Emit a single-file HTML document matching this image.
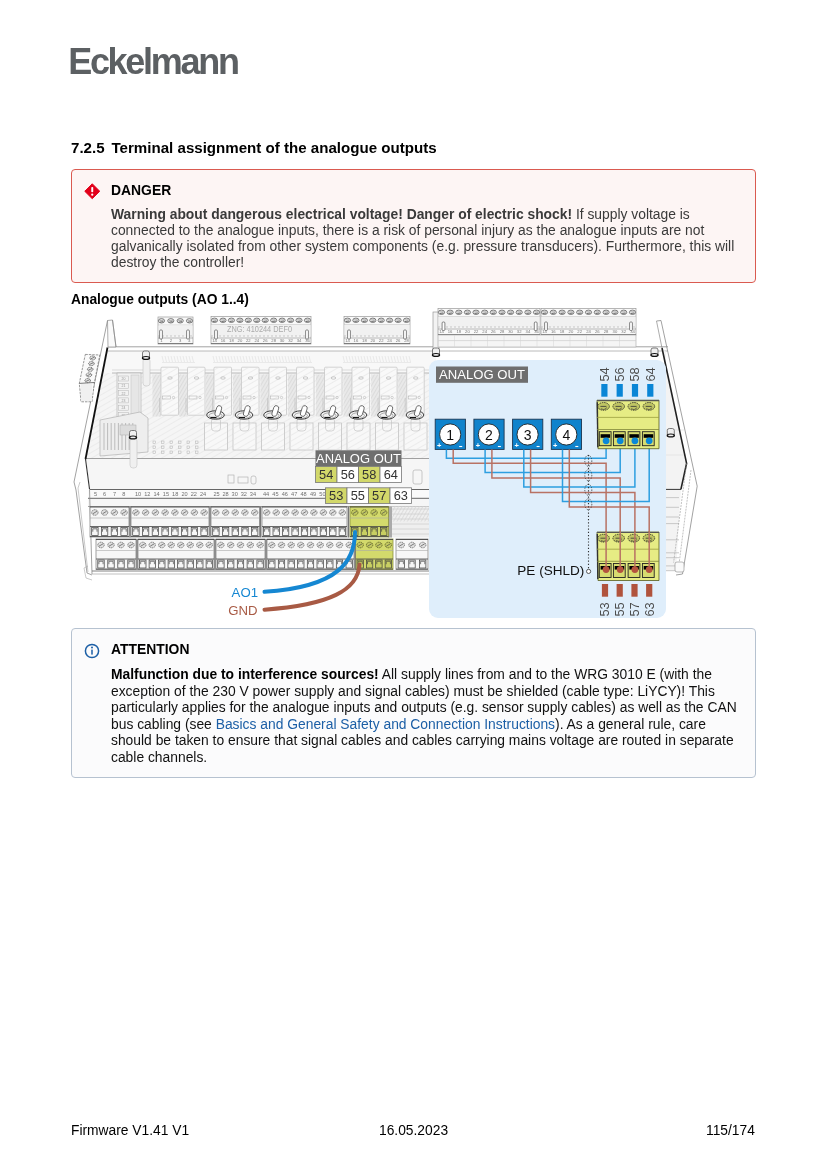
<!DOCTYPE html>
<html><head><meta charset="utf-8">
<style>
*{margin:0;padding:0;box-sizing:border-box}
html,body{width:827px;height:1169px;background:#fff;overflow:hidden}
body{font-family:"Liberation Sans",sans-serif;color:#000;position:relative}
.abs{position:absolute;white-space:nowrap}
#logo{left:68.2px;top:41.5px;font-size:36px;font-weight:bold;color:#5c6063;letter-spacing:-2.3px;line-height:40px}
#h{left:71px;top:138.5px;font-size:15.1px;font-weight:bold;line-height:18px}
#h .n{position:absolute;left:0}
#h .t{position:absolute;left:40.5px}
.box{position:absolute;left:71px;width:685px;border-radius:4px}
#danger{top:169px;height:114px;border:1.9px solid #da5a50;background:#fdf5f4}
#attn{top:628px;height:150px;border:1.9px solid #b6c2d0;background:#fbfbfc}
.ttl{position:absolute;left:39px;font-size:13.9px;font-weight:bold;line-height:16px;white-space:nowrap}
.txt{position:absolute;left:39px;font-size:13.85px;line-height:16px;color:#3a3a3a;white-space:nowrap}
#attn .txt{color:#111;line-height:16.5px}
#lbl{left:71px;top:292.3px;font-size:13.8px;font-weight:bold;line-height:16px}
.ft{position:absolute;top:1123px;font-size:13.8px;line-height:16px;white-space:nowrap}
a{color:#1c5fa6;text-decoration:none}
#dg{position:absolute;left:0;top:0}
#dg text{font-family:"Liberation Sans",sans-serif}
</style></head>
<body>
<div id="wrap" style="position:absolute;left:0;top:0;width:827px;height:1169px;will-change:transform">
<div id="logo" class="abs">Eckelmann</div>
<div id="h" class="abs"><span class="n">7.2.5</span><span class="t">Terminal assignment of the analogue outputs</span></div>

<div id="danger" class="box">
  <svg style="position:absolute;left:11.5px;top:13px" width="16.5" height="16.5" viewBox="0 0 17 17"><path d="M8.5 0.8 L16.2 8.5 L8.5 16.2 L0.8 8.5 Z" fill="#e2001a" stroke="#e2001a" stroke-width="1" stroke-linejoin="round"/><rect x="7.5" y="4" width="2" height="5.6" rx="0.8" fill="#fff"/><circle cx="8.5" cy="12" r="1.15" fill="#fff"/></svg>
  <div class="ttl" style="top:11.8px">DANGER</div>
  <div class="txt" style="top:36.2px"><b>Warning about dangerous electrical voltage! Danger of electric shock!</b> If supply voltage is<br>connected to the analogue inputs, there is a risk of personal injury as the analogue inputs are not<br>galvanically isolated from other system components (e.g. pressure transducers). Furthermore, this will<br>destroy the controller!</div>
</div>

<div id="lbl" class="abs">Analogue outputs (AO 1..4)</div>

<svg id="dg" width="827" height="640" viewBox="0 0 827 640">
<defs>
<pattern id="hatch" width="5" height="5" patternUnits="userSpaceOnUse" patternTransform="rotate(-30)"><line x1="0" y1="2.5" x2="5" y2="2.5" stroke="#e6e6e6" stroke-width="0.7"/></pattern>
<pattern id="hatch3" width="3" height="3" patternUnits="userSpaceOnUse" patternTransform="rotate(-60)"><line x1="0" y1="1.5" x2="3" y2="1.5" stroke="#d8d8d8" stroke-width="0.8"/></pattern>
<pattern id="hatch2" width="5" height="5" patternUnits="userSpaceOnUse" patternTransform="rotate(-20)"><line x1="0" y1="2.5" x2="5" y2="2.5" stroke="#e0e0e0" stroke-width="0.7"/></pattern>
</defs>
<polygon points="108.0,351.0 436.0,351.0 436.0,458.0 86.0,458.0" fill="#f5f5f5" stroke="none" stroke-width="0.7" />
<polygon points="108.0,351.0 436.0,351.0 436.0,458.0 86.0,458.0" fill="url(#hatch)" stroke="none" stroke-width="0.7" />
<polygon points="107.5,351.0 436.0,351.0 436.0,373.0 103.0,373.0" fill="#f8f8f8" stroke="none" stroke-width="0.7" />
<line x1="162.0" y1="356.0" x2="163.5" y2="362.0" stroke="#dedede" stroke-width="0.6" />
<line x1="165.0" y1="356.0" x2="166.5" y2="362.0" stroke="#dedede" stroke-width="0.6" />
<line x1="168.0" y1="356.0" x2="169.5" y2="362.0" stroke="#dedede" stroke-width="0.6" />
<line x1="171.0" y1="356.0" x2="172.5" y2="362.0" stroke="#dedede" stroke-width="0.6" />
<line x1="174.0" y1="356.0" x2="175.5" y2="362.0" stroke="#dedede" stroke-width="0.6" />
<line x1="177.0" y1="356.0" x2="178.5" y2="362.0" stroke="#dedede" stroke-width="0.6" />
<line x1="180.0" y1="356.0" x2="181.5" y2="362.0" stroke="#dedede" stroke-width="0.6" />
<line x1="183.0" y1="356.0" x2="184.5" y2="362.0" stroke="#dedede" stroke-width="0.6" />
<line x1="186.0" y1="356.0" x2="187.5" y2="362.0" stroke="#dedede" stroke-width="0.6" />
<line x1="189.0" y1="356.0" x2="190.5" y2="362.0" stroke="#dedede" stroke-width="0.6" />
<line x1="192.0" y1="356.0" x2="193.5" y2="362.0" stroke="#dedede" stroke-width="0.6" />
<line x1="162.0" y1="362.5" x2="195.0" y2="362.5" stroke="#dadada" stroke-width="0.5" />
<line x1="213.0" y1="356.0" x2="214.5" y2="362.0" stroke="#dedede" stroke-width="0.6" />
<line x1="216.0" y1="356.0" x2="217.5" y2="362.0" stroke="#dedede" stroke-width="0.6" />
<line x1="219.0" y1="356.0" x2="220.5" y2="362.0" stroke="#dedede" stroke-width="0.6" />
<line x1="222.0" y1="356.0" x2="223.5" y2="362.0" stroke="#dedede" stroke-width="0.6" />
<line x1="225.0" y1="356.0" x2="226.5" y2="362.0" stroke="#dedede" stroke-width="0.6" />
<line x1="228.0" y1="356.0" x2="229.5" y2="362.0" stroke="#dedede" stroke-width="0.6" />
<line x1="231.0" y1="356.0" x2="232.5" y2="362.0" stroke="#dedede" stroke-width="0.6" />
<line x1="234.0" y1="356.0" x2="235.5" y2="362.0" stroke="#dedede" stroke-width="0.6" />
<line x1="237.0" y1="356.0" x2="238.5" y2="362.0" stroke="#dedede" stroke-width="0.6" />
<line x1="240.0" y1="356.0" x2="241.5" y2="362.0" stroke="#dedede" stroke-width="0.6" />
<line x1="243.0" y1="356.0" x2="244.5" y2="362.0" stroke="#dedede" stroke-width="0.6" />
<line x1="246.0" y1="356.0" x2="247.5" y2="362.0" stroke="#dedede" stroke-width="0.6" />
<line x1="249.0" y1="356.0" x2="250.5" y2="362.0" stroke="#dedede" stroke-width="0.6" />
<line x1="252.0" y1="356.0" x2="253.5" y2="362.0" stroke="#dedede" stroke-width="0.6" />
<line x1="255.0" y1="356.0" x2="256.5" y2="362.0" stroke="#dedede" stroke-width="0.6" />
<line x1="258.0" y1="356.0" x2="259.5" y2="362.0" stroke="#dedede" stroke-width="0.6" />
<line x1="261.0" y1="356.0" x2="262.5" y2="362.0" stroke="#dedede" stroke-width="0.6" />
<line x1="264.0" y1="356.0" x2="265.5" y2="362.0" stroke="#dedede" stroke-width="0.6" />
<line x1="267.0" y1="356.0" x2="268.5" y2="362.0" stroke="#dedede" stroke-width="0.6" />
<line x1="270.0" y1="356.0" x2="271.5" y2="362.0" stroke="#dedede" stroke-width="0.6" />
<line x1="273.0" y1="356.0" x2="274.5" y2="362.0" stroke="#dedede" stroke-width="0.6" />
<line x1="276.0" y1="356.0" x2="277.5" y2="362.0" stroke="#dedede" stroke-width="0.6" />
<line x1="279.0" y1="356.0" x2="280.5" y2="362.0" stroke="#dedede" stroke-width="0.6" />
<line x1="282.0" y1="356.0" x2="283.5" y2="362.0" stroke="#dedede" stroke-width="0.6" />
<line x1="285.0" y1="356.0" x2="286.5" y2="362.0" stroke="#dedede" stroke-width="0.6" />
<line x1="288.0" y1="356.0" x2="289.5" y2="362.0" stroke="#dedede" stroke-width="0.6" />
<line x1="291.0" y1="356.0" x2="292.5" y2="362.0" stroke="#dedede" stroke-width="0.6" />
<line x1="294.0" y1="356.0" x2="295.5" y2="362.0" stroke="#dedede" stroke-width="0.6" />
<line x1="297.0" y1="356.0" x2="298.5" y2="362.0" stroke="#dedede" stroke-width="0.6" />
<line x1="300.0" y1="356.0" x2="301.5" y2="362.0" stroke="#dedede" stroke-width="0.6" />
<line x1="303.0" y1="356.0" x2="304.5" y2="362.0" stroke="#dedede" stroke-width="0.6" />
<line x1="306.0" y1="356.0" x2="307.5" y2="362.0" stroke="#dedede" stroke-width="0.6" />
<line x1="309.0" y1="356.0" x2="310.5" y2="362.0" stroke="#dedede" stroke-width="0.6" />
<line x1="213.0" y1="362.5" x2="312.0" y2="362.5" stroke="#dadada" stroke-width="0.5" />
<line x1="343.0" y1="356.0" x2="344.5" y2="362.0" stroke="#dedede" stroke-width="0.6" />
<line x1="346.0" y1="356.0" x2="347.5" y2="362.0" stroke="#dedede" stroke-width="0.6" />
<line x1="349.0" y1="356.0" x2="350.5" y2="362.0" stroke="#dedede" stroke-width="0.6" />
<line x1="352.0" y1="356.0" x2="353.5" y2="362.0" stroke="#dedede" stroke-width="0.6" />
<line x1="355.0" y1="356.0" x2="356.5" y2="362.0" stroke="#dedede" stroke-width="0.6" />
<line x1="358.0" y1="356.0" x2="359.5" y2="362.0" stroke="#dedede" stroke-width="0.6" />
<line x1="361.0" y1="356.0" x2="362.5" y2="362.0" stroke="#dedede" stroke-width="0.6" />
<line x1="364.0" y1="356.0" x2="365.5" y2="362.0" stroke="#dedede" stroke-width="0.6" />
<line x1="367.0" y1="356.0" x2="368.5" y2="362.0" stroke="#dedede" stroke-width="0.6" />
<line x1="370.0" y1="356.0" x2="371.5" y2="362.0" stroke="#dedede" stroke-width="0.6" />
<line x1="373.0" y1="356.0" x2="374.5" y2="362.0" stroke="#dedede" stroke-width="0.6" />
<line x1="376.0" y1="356.0" x2="377.5" y2="362.0" stroke="#dedede" stroke-width="0.6" />
<line x1="379.0" y1="356.0" x2="380.5" y2="362.0" stroke="#dedede" stroke-width="0.6" />
<line x1="382.0" y1="356.0" x2="383.5" y2="362.0" stroke="#dedede" stroke-width="0.6" />
<line x1="385.0" y1="356.0" x2="386.5" y2="362.0" stroke="#dedede" stroke-width="0.6" />
<line x1="388.0" y1="356.0" x2="389.5" y2="362.0" stroke="#dedede" stroke-width="0.6" />
<line x1="391.0" y1="356.0" x2="392.5" y2="362.0" stroke="#dedede" stroke-width="0.6" />
<line x1="394.0" y1="356.0" x2="395.5" y2="362.0" stroke="#dedede" stroke-width="0.6" />
<line x1="397.0" y1="356.0" x2="398.5" y2="362.0" stroke="#dedede" stroke-width="0.6" />
<line x1="400.0" y1="356.0" x2="401.5" y2="362.0" stroke="#dedede" stroke-width="0.6" />
<line x1="403.0" y1="356.0" x2="404.5" y2="362.0" stroke="#dedede" stroke-width="0.6" />
<line x1="406.0" y1="356.0" x2="407.5" y2="362.0" stroke="#dedede" stroke-width="0.6" />
<line x1="409.0" y1="356.0" x2="410.5" y2="362.0" stroke="#dedede" stroke-width="0.6" />
<line x1="343.0" y1="362.5" x2="411.0" y2="362.5" stroke="#dadada" stroke-width="0.5" />
<line x1="112.0" y1="373.0" x2="436.0" y2="373.0" stroke="#a8a8a8" stroke-width="0.8" />
<line x1="112.0" y1="370.0" x2="436.0" y2="370.0" stroke="#c8c8c8" stroke-width="0.6" />
<polygon points="86.0,458.0 436.0,458.0 436.0,489.0 90.0,489.0" fill="#f6f6f6" stroke="none" stroke-width="0.7" />
<line x1="86.0" y1="458.5" x2="436.0" y2="458.5" stroke="#8a8a8a" stroke-width="0.8" />
<line x1="90.0" y1="489.5" x2="436.0" y2="489.5" stroke="#555" stroke-width="0.9" />
<rect x="88.0" y="490.0" width="348.0" height="8.0" fill="#fafafa" stroke="none" stroke-width="0.7" rx="0" />
<line x1="88.0" y1="498.3" x2="436.0" y2="498.3" stroke="#555" stroke-width="0.9" />
<text x="95.6" y="496.3" font-size="5.6" fill="#707070" text-anchor="middle">5</text>
<text x="104.6" y="496.3" font-size="5.6" fill="#707070" text-anchor="middle">6</text>
<text x="114.6" y="496.3" font-size="5.6" fill="#707070" text-anchor="middle">7</text>
<text x="123.7" y="496.3" font-size="5.6" fill="#707070" text-anchor="middle">8</text>
<text x="138.0" y="496.3" font-size="5.6" fill="#707070" text-anchor="middle">10</text>
<text x="147.3" y="496.3" font-size="5.6" fill="#707070" text-anchor="middle">12</text>
<text x="156.6" y="496.3" font-size="5.6" fill="#707070" text-anchor="middle">14</text>
<text x="165.9" y="496.3" font-size="5.6" fill="#707070" text-anchor="middle">15</text>
<text x="175.2" y="496.3" font-size="5.6" fill="#707070" text-anchor="middle">18</text>
<text x="184.5" y="496.3" font-size="5.6" fill="#707070" text-anchor="middle">20</text>
<text x="193.8" y="496.3" font-size="5.6" fill="#707070" text-anchor="middle">22</text>
<text x="203.1" y="496.3" font-size="5.6" fill="#707070" text-anchor="middle">24</text>
<text x="216.5" y="496.3" font-size="5.6" fill="#707070" text-anchor="middle">25</text>
<text x="225.6" y="496.3" font-size="5.6" fill="#707070" text-anchor="middle">28</text>
<text x="234.7" y="496.3" font-size="5.6" fill="#707070" text-anchor="middle">30</text>
<text x="243.8" y="496.3" font-size="5.6" fill="#707070" text-anchor="middle">32</text>
<text x="252.9" y="496.3" font-size="5.6" fill="#707070" text-anchor="middle">34</text>
<text x="266.0" y="496.3" font-size="5.6" fill="#707070" text-anchor="middle">44</text>
<text x="275.4" y="496.3" font-size="5.6" fill="#707070" text-anchor="middle">45</text>
<text x="284.8" y="496.3" font-size="5.6" fill="#707070" text-anchor="middle">46</text>
<text x="294.2" y="496.3" font-size="5.6" fill="#707070" text-anchor="middle">47</text>
<text x="303.6" y="496.3" font-size="5.6" fill="#707070" text-anchor="middle">48</text>
<text x="313.0" y="496.3" font-size="5.6" fill="#707070" text-anchor="middle">49</text>
<text x="322.4" y="496.3" font-size="5.6" fill="#707070" text-anchor="middle">50</text>
<text x="331.8" y="496.3" font-size="5.6" fill="#707070" text-anchor="middle">52</text>
<rect x="88.0" y="499.0" width="348.0" height="7.5" fill="#f6f6f6" stroke="none" stroke-width="0.7" rx="0" />
<line x1="88.0" y1="506.5" x2="436.0" y2="506.5" stroke="#8a8a8a" stroke-width="0.8" />
<line x1="108.0" y1="346.8" x2="668.0" y2="346.8" stroke="#8a8a8a" stroke-width="0.8" />
<line x1="108.0" y1="351.0" x2="668.0" y2="351.0" stroke="#a8a8a8" stroke-width="0.8" />
<polygon points="107.5,320.5 112.5,320.0 116.0,347.0 108.0,347.0" fill="#fafafa" stroke="#8a8a8a" stroke-width="0.7" />
<polyline points="107.5,320.5 74.0,482.0 76.0,490.0 87.0,573.0 92.0,575.0" fill="none" stroke="#8a8a8a" stroke-width="0.8" />
<polyline points="112.5,320.0 116.0,347.0" fill="none" stroke="#8a8a8a" stroke-width="0.7" />
<line x1="107.5" y1="347.5" x2="85.5" y2="459.0" stroke="#111" stroke-width="1.8" />
<line x1="85.5" y1="459.0" x2="89.5" y2="489.0" stroke="#333" stroke-width="1.1" />
<line x1="89.5" y1="489.0" x2="92.0" y2="574.0" stroke="#8a8a8a" stroke-width="0.8" />
<polyline points="80.0,482.0 78.0,488.0 88.0,572.0" fill="none" stroke="#a8a8a8" stroke-width="0.6" />
<polygon points="85.3,354.4 99.8,355.0 94.4,382.5 92.0,401.8 81.0,401.8 79.3,383.4" fill="#fafafa" stroke="#555" stroke-width="0.6" stroke-dasharray="2.5 1"/>
<line x1="79.3" y1="383.4" x2="94.4" y2="382.5" stroke="#444" stroke-width="0.7" />
<rect x="81.0" y="384.0" width="11.0" height="17.0" fill="#f0f0f0" stroke="none" stroke-width="0.7" rx="0" />
<ellipse cx="92.6" cy="358.0" rx="2.8" ry="2.0" fill="#e8e8e8" stroke="#333" stroke-width="0.7" stroke-dasharray="1.2 0.5"/>
<line x1="90.8" y1="358.8" x2="94.4" y2="357.2" stroke="#333" stroke-width="0.6" />
<ellipse cx="91.4" cy="363.6" rx="2.8" ry="2.0" fill="#e8e8e8" stroke="#333" stroke-width="0.7" stroke-dasharray="1.2 0.5"/>
<line x1="89.6" y1="364.4" x2="93.2" y2="362.8" stroke="#333" stroke-width="0.6" />
<ellipse cx="90.2" cy="369.3" rx="2.8" ry="2.0" fill="#e8e8e8" stroke="#333" stroke-width="0.7" stroke-dasharray="1.2 0.5"/>
<line x1="88.4" y1="370.1" x2="92.0" y2="368.5" stroke="#333" stroke-width="0.6" />
<ellipse cx="88.9" cy="374.9" rx="2.8" ry="2.0" fill="#e8e8e8" stroke="#333" stroke-width="0.7" stroke-dasharray="1.2 0.5"/>
<line x1="87.1" y1="375.8" x2="90.7" y2="374.1" stroke="#333" stroke-width="0.6" />
<ellipse cx="87.7" cy="380.6" rx="2.8" ry="2.0" fill="#e8e8e8" stroke="#333" stroke-width="0.7" stroke-dasharray="1.2 0.5"/>
<line x1="85.9" y1="381.4" x2="89.5" y2="379.8" stroke="#333" stroke-width="0.6" />
<rect x="158.0" y="317.0" width="35.0" height="27.0" fill="#f9f9f9" stroke="#999" stroke-width="0.7" rx="0" />
<line x1="158.0" y1="325.0" x2="193.0" y2="325.0" stroke="#c4c4c4" stroke-width="0.6" />
<rect x="158.5" y="325.5" width="34.0" height="11.0" fill="#f1f1f1" stroke="none" stroke-width="0.7" rx="0" />
<line x1="158.0" y1="336.0" x2="193.0" y2="336.0" stroke="#999" stroke-width="0.5" stroke-dasharray="2 2"/>
<line x1="158.0" y1="338.0" x2="193.0" y2="338.0" stroke="#888" stroke-width="0.6" />
<line x1="158.0" y1="343.5" x2="193.0" y2="343.5" stroke="#666" stroke-width="0.8" />
<ellipse cx="161.5" cy="320.8" rx="3.1" ry="2.2" fill="#f0f0f0" stroke="#4a4a4a" stroke-width="0.7" />
<line x1="159.5" y1="320.4" x2="163.5" y2="320.4" stroke="#666" stroke-width="0.5" />
<line x1="160.0" y1="322.1" x2="163.3" y2="321.5" stroke="#444" stroke-width="0.7" />
<text x="161.5" y="342.2" font-size="4.2" fill="#777" text-anchor="middle">1</text>
<ellipse cx="170.8" cy="320.8" rx="3.1" ry="2.2" fill="#f0f0f0" stroke="#4a4a4a" stroke-width="0.7" />
<line x1="168.8" y1="320.4" x2="172.8" y2="320.4" stroke="#666" stroke-width="0.5" />
<line x1="169.3" y1="322.1" x2="172.6" y2="321.5" stroke="#444" stroke-width="0.7" />
<text x="170.8" y="342.2" font-size="4.2" fill="#777" text-anchor="middle">2</text>
<ellipse cx="180.2" cy="320.8" rx="3.1" ry="2.2" fill="#f0f0f0" stroke="#4a4a4a" stroke-width="0.7" />
<line x1="178.2" y1="320.4" x2="182.2" y2="320.4" stroke="#666" stroke-width="0.5" />
<line x1="178.7" y1="322.1" x2="182.0" y2="321.5" stroke="#444" stroke-width="0.7" />
<text x="180.2" y="342.2" font-size="4.2" fill="#777" text-anchor="middle">3</text>
<ellipse cx="189.5" cy="320.8" rx="3.1" ry="2.2" fill="#f0f0f0" stroke="#4a4a4a" stroke-width="0.7" />
<line x1="187.5" y1="320.4" x2="191.5" y2="320.4" stroke="#666" stroke-width="0.5" />
<line x1="188.0" y1="322.1" x2="191.3" y2="321.5" stroke="#444" stroke-width="0.7" />
<text x="189.5" y="342.2" font-size="4.2" fill="#777" text-anchor="middle">4</text>
<rect x="159.6" y="330.0" width="2.8" height="9.0" fill="#fff" stroke="#555" stroke-width="0.7" rx="1" />
<rect x="186.6" y="330.0" width="2.8" height="9.0" fill="#fff" stroke="#555" stroke-width="0.7" rx="1" />
<rect x="211.0" y="316.5" width="100.0" height="27.5" fill="#f9f9f9" stroke="#999" stroke-width="0.7" rx="0" />
<line x1="211.0" y1="324.5" x2="311.0" y2="324.5" stroke="#c4c4c4" stroke-width="0.6" />
<rect x="211.5" y="325.0" width="99.0" height="11.5" fill="#f1f1f1" stroke="none" stroke-width="0.7" rx="0" />
<line x1="211.0" y1="336.0" x2="311.0" y2="336.0" stroke="#999" stroke-width="0.5" stroke-dasharray="2 2"/>
<line x1="211.0" y1="338.0" x2="311.0" y2="338.0" stroke="#888" stroke-width="0.6" />
<line x1="211.0" y1="343.5" x2="311.0" y2="343.5" stroke="#666" stroke-width="0.8" />
<ellipse cx="214.5" cy="320.3" rx="3.1" ry="2.2" fill="#f0f0f0" stroke="#4a4a4a" stroke-width="0.7" />
<line x1="212.5" y1="319.9" x2="216.5" y2="319.9" stroke="#666" stroke-width="0.5" />
<line x1="213.0" y1="321.6" x2="216.3" y2="321.0" stroke="#444" stroke-width="0.7" />
<text x="214.5" y="342.2" font-size="4.2" fill="#777" text-anchor="middle">14</text>
<ellipse cx="223.0" cy="320.3" rx="3.1" ry="2.2" fill="#f0f0f0" stroke="#4a4a4a" stroke-width="0.7" />
<line x1="221.0" y1="319.9" x2="225.0" y2="319.9" stroke="#666" stroke-width="0.5" />
<line x1="221.5" y1="321.6" x2="224.8" y2="321.0" stroke="#444" stroke-width="0.7" />
<text x="223.0" y="342.2" font-size="4.2" fill="#777" text-anchor="middle">16</text>
<ellipse cx="231.4" cy="320.3" rx="3.1" ry="2.2" fill="#f0f0f0" stroke="#4a4a4a" stroke-width="0.7" />
<line x1="229.4" y1="319.9" x2="233.4" y2="319.9" stroke="#666" stroke-width="0.5" />
<line x1="229.9" y1="321.6" x2="233.2" y2="321.0" stroke="#444" stroke-width="0.7" />
<text x="231.4" y="342.2" font-size="4.2" fill="#777" text-anchor="middle">18</text>
<ellipse cx="239.9" cy="320.3" rx="3.1" ry="2.2" fill="#f0f0f0" stroke="#4a4a4a" stroke-width="0.7" />
<line x1="237.9" y1="319.9" x2="241.9" y2="319.9" stroke="#666" stroke-width="0.5" />
<line x1="238.4" y1="321.6" x2="241.7" y2="321.0" stroke="#444" stroke-width="0.7" />
<text x="239.9" y="342.2" font-size="4.2" fill="#777" text-anchor="middle">20</text>
<ellipse cx="248.3" cy="320.3" rx="3.1" ry="2.2" fill="#f0f0f0" stroke="#4a4a4a" stroke-width="0.7" />
<line x1="246.3" y1="319.9" x2="250.3" y2="319.9" stroke="#666" stroke-width="0.5" />
<line x1="246.8" y1="321.6" x2="250.1" y2="321.0" stroke="#444" stroke-width="0.7" />
<text x="248.3" y="342.2" font-size="4.2" fill="#777" text-anchor="middle">22</text>
<ellipse cx="256.8" cy="320.3" rx="3.1" ry="2.2" fill="#f0f0f0" stroke="#4a4a4a" stroke-width="0.7" />
<line x1="254.8" y1="319.9" x2="258.8" y2="319.9" stroke="#666" stroke-width="0.5" />
<line x1="255.3" y1="321.6" x2="258.6" y2="321.0" stroke="#444" stroke-width="0.7" />
<text x="256.8" y="342.2" font-size="4.2" fill="#777" text-anchor="middle">24</text>
<ellipse cx="265.2" cy="320.3" rx="3.1" ry="2.2" fill="#f0f0f0" stroke="#4a4a4a" stroke-width="0.7" />
<line x1="263.2" y1="319.9" x2="267.2" y2="319.9" stroke="#666" stroke-width="0.5" />
<line x1="263.7" y1="321.6" x2="267.0" y2="321.0" stroke="#444" stroke-width="0.7" />
<text x="265.2" y="342.2" font-size="4.2" fill="#777" text-anchor="middle">26</text>
<ellipse cx="273.7" cy="320.3" rx="3.1" ry="2.2" fill="#f0f0f0" stroke="#4a4a4a" stroke-width="0.7" />
<line x1="271.7" y1="319.9" x2="275.7" y2="319.9" stroke="#666" stroke-width="0.5" />
<line x1="272.2" y1="321.6" x2="275.5" y2="321.0" stroke="#444" stroke-width="0.7" />
<text x="273.7" y="342.2" font-size="4.2" fill="#777" text-anchor="middle">28</text>
<ellipse cx="282.1" cy="320.3" rx="3.1" ry="2.2" fill="#f0f0f0" stroke="#4a4a4a" stroke-width="0.7" />
<line x1="280.1" y1="319.9" x2="284.1" y2="319.9" stroke="#666" stroke-width="0.5" />
<line x1="280.6" y1="321.6" x2="283.9" y2="321.0" stroke="#444" stroke-width="0.7" />
<text x="282.1" y="342.2" font-size="4.2" fill="#777" text-anchor="middle">30</text>
<ellipse cx="290.6" cy="320.3" rx="3.1" ry="2.2" fill="#f0f0f0" stroke="#4a4a4a" stroke-width="0.7" />
<line x1="288.6" y1="319.9" x2="292.6" y2="319.9" stroke="#666" stroke-width="0.5" />
<line x1="289.1" y1="321.6" x2="292.4" y2="321.0" stroke="#444" stroke-width="0.7" />
<text x="290.6" y="342.2" font-size="4.2" fill="#777" text-anchor="middle">32</text>
<ellipse cx="299.0" cy="320.3" rx="3.1" ry="2.2" fill="#f0f0f0" stroke="#4a4a4a" stroke-width="0.7" />
<line x1="297.0" y1="319.9" x2="301.0" y2="319.9" stroke="#666" stroke-width="0.5" />
<line x1="297.5" y1="321.6" x2="300.8" y2="321.0" stroke="#444" stroke-width="0.7" />
<text x="299.0" y="342.2" font-size="4.2" fill="#777" text-anchor="middle">34</text>
<ellipse cx="307.5" cy="320.3" rx="3.1" ry="2.2" fill="#f0f0f0" stroke="#4a4a4a" stroke-width="0.7" />
<line x1="305.5" y1="319.9" x2="309.5" y2="319.9" stroke="#666" stroke-width="0.5" />
<line x1="306.0" y1="321.6" x2="309.3" y2="321.0" stroke="#444" stroke-width="0.7" />
<text x="307.5" y="342.2" font-size="4.2" fill="#777" text-anchor="middle">36</text>
<text x="227.0" y="332.0" font-size="8.5" fill="#aaa" textLength="65" lengthAdjust="spacingAndGlyphs">ZNG: 410244 DEF0</text>
<rect x="214.6" y="330.0" width="2.8" height="9.0" fill="#fff" stroke="#555" stroke-width="0.7" rx="1" />
<rect x="305.6" y="330.0" width="2.8" height="9.0" fill="#fff" stroke="#555" stroke-width="0.7" rx="1" />
<rect x="344.0" y="316.5" width="66.0" height="27.5" fill="#f9f9f9" stroke="#999" stroke-width="0.7" rx="0" />
<line x1="344.0" y1="324.5" x2="410.0" y2="324.5" stroke="#c4c4c4" stroke-width="0.6" />
<rect x="344.5" y="325.0" width="65.0" height="11.5" fill="#f1f1f1" stroke="none" stroke-width="0.7" rx="0" />
<line x1="344.0" y1="336.0" x2="410.0" y2="336.0" stroke="#999" stroke-width="0.5" stroke-dasharray="2 2"/>
<line x1="344.0" y1="338.0" x2="410.0" y2="338.0" stroke="#888" stroke-width="0.6" />
<line x1="344.0" y1="343.5" x2="410.0" y2="343.5" stroke="#666" stroke-width="0.8" />
<ellipse cx="347.5" cy="320.3" rx="3.1" ry="2.2" fill="#f0f0f0" stroke="#4a4a4a" stroke-width="0.7" />
<line x1="345.5" y1="319.9" x2="349.5" y2="319.9" stroke="#666" stroke-width="0.5" />
<line x1="346.0" y1="321.6" x2="349.3" y2="321.0" stroke="#444" stroke-width="0.7" />
<text x="347.5" y="342.2" font-size="4.2" fill="#777" text-anchor="middle">14</text>
<ellipse cx="355.9" cy="320.3" rx="3.1" ry="2.2" fill="#f0f0f0" stroke="#4a4a4a" stroke-width="0.7" />
<line x1="353.9" y1="319.9" x2="357.9" y2="319.9" stroke="#666" stroke-width="0.5" />
<line x1="354.4" y1="321.6" x2="357.7" y2="321.0" stroke="#444" stroke-width="0.7" />
<text x="355.9" y="342.2" font-size="4.2" fill="#777" text-anchor="middle">16</text>
<ellipse cx="364.4" cy="320.3" rx="3.1" ry="2.2" fill="#f0f0f0" stroke="#4a4a4a" stroke-width="0.7" />
<line x1="362.4" y1="319.9" x2="366.4" y2="319.9" stroke="#666" stroke-width="0.5" />
<line x1="362.9" y1="321.6" x2="366.2" y2="321.0" stroke="#444" stroke-width="0.7" />
<text x="364.4" y="342.2" font-size="4.2" fill="#777" text-anchor="middle">18</text>
<ellipse cx="372.8" cy="320.3" rx="3.1" ry="2.2" fill="#f0f0f0" stroke="#4a4a4a" stroke-width="0.7" />
<line x1="370.8" y1="319.9" x2="374.8" y2="319.9" stroke="#666" stroke-width="0.5" />
<line x1="371.3" y1="321.6" x2="374.6" y2="321.0" stroke="#444" stroke-width="0.7" />
<text x="372.8" y="342.2" font-size="4.2" fill="#777" text-anchor="middle">20</text>
<ellipse cx="381.2" cy="320.3" rx="3.1" ry="2.2" fill="#f0f0f0" stroke="#4a4a4a" stroke-width="0.7" />
<line x1="379.2" y1="319.9" x2="383.2" y2="319.9" stroke="#666" stroke-width="0.5" />
<line x1="379.7" y1="321.6" x2="383.0" y2="321.0" stroke="#444" stroke-width="0.7" />
<text x="381.2" y="342.2" font-size="4.2" fill="#777" text-anchor="middle">22</text>
<ellipse cx="389.6" cy="320.3" rx="3.1" ry="2.2" fill="#f0f0f0" stroke="#4a4a4a" stroke-width="0.7" />
<line x1="387.6" y1="319.9" x2="391.6" y2="319.9" stroke="#666" stroke-width="0.5" />
<line x1="388.1" y1="321.6" x2="391.4" y2="321.0" stroke="#444" stroke-width="0.7" />
<text x="389.6" y="342.2" font-size="4.2" fill="#777" text-anchor="middle">24</text>
<ellipse cx="398.1" cy="320.3" rx="3.1" ry="2.2" fill="#f0f0f0" stroke="#4a4a4a" stroke-width="0.7" />
<line x1="396.1" y1="319.9" x2="400.1" y2="319.9" stroke="#666" stroke-width="0.5" />
<line x1="396.6" y1="321.6" x2="399.9" y2="321.0" stroke="#444" stroke-width="0.7" />
<text x="398.1" y="342.2" font-size="4.2" fill="#777" text-anchor="middle">26</text>
<ellipse cx="406.5" cy="320.3" rx="3.1" ry="2.2" fill="#f0f0f0" stroke="#4a4a4a" stroke-width="0.7" />
<line x1="404.5" y1="319.9" x2="408.5" y2="319.9" stroke="#666" stroke-width="0.5" />
<line x1="405.0" y1="321.6" x2="408.3" y2="321.0" stroke="#444" stroke-width="0.7" />
<text x="406.5" y="342.2" font-size="4.2" fill="#777" text-anchor="middle">28</text>
<rect x="347.6" y="330.0" width="2.8" height="9.0" fill="#fff" stroke="#555" stroke-width="0.7" rx="1" />
<rect x="403.6" y="330.0" width="2.8" height="9.0" fill="#fff" stroke="#555" stroke-width="0.7" rx="1" />
<rect x="433.0" y="312.0" width="6.0" height="38.0" fill="#f3f3f3" stroke="#888" stroke-width="0.6" rx="0" />
<rect x="438.0" y="308.5" width="102.0" height="26.5" fill="#f9f9f9" stroke="#999" stroke-width="0.7" rx="0" />
<line x1="438.0" y1="316.5" x2="540.0" y2="316.5" stroke="#c4c4c4" stroke-width="0.6" />
<rect x="438.5" y="317.0" width="101.0" height="10.5" fill="#f1f1f1" stroke="none" stroke-width="0.7" rx="0" />
<line x1="438.0" y1="327.0" x2="540.0" y2="327.0" stroke="#999" stroke-width="0.5" stroke-dasharray="2 2"/>
<line x1="438.0" y1="329.0" x2="540.0" y2="329.0" stroke="#888" stroke-width="0.6" />
<line x1="438.0" y1="334.5" x2="540.0" y2="334.5" stroke="#666" stroke-width="0.8" />
<ellipse cx="441.5" cy="312.3" rx="3.1" ry="2.2" fill="#f0f0f0" stroke="#4a4a4a" stroke-width="0.7" />
<line x1="439.5" y1="311.9" x2="443.5" y2="311.9" stroke="#666" stroke-width="0.5" />
<line x1="440.0" y1="313.6" x2="443.3" y2="313.0" stroke="#444" stroke-width="0.7" />
<text x="441.5" y="333.2" font-size="4.2" fill="#777" text-anchor="middle">14</text>
<ellipse cx="450.1" cy="312.3" rx="3.1" ry="2.2" fill="#f0f0f0" stroke="#4a4a4a" stroke-width="0.7" />
<line x1="448.1" y1="311.9" x2="452.1" y2="311.9" stroke="#666" stroke-width="0.5" />
<line x1="448.6" y1="313.6" x2="451.9" y2="313.0" stroke="#444" stroke-width="0.7" />
<text x="450.1" y="333.2" font-size="4.2" fill="#777" text-anchor="middle">16</text>
<ellipse cx="458.8" cy="312.3" rx="3.1" ry="2.2" fill="#f0f0f0" stroke="#4a4a4a" stroke-width="0.7" />
<line x1="456.8" y1="311.9" x2="460.8" y2="311.9" stroke="#666" stroke-width="0.5" />
<line x1="457.3" y1="313.6" x2="460.6" y2="313.0" stroke="#444" stroke-width="0.7" />
<text x="458.8" y="333.2" font-size="4.2" fill="#777" text-anchor="middle">18</text>
<ellipse cx="467.4" cy="312.3" rx="3.1" ry="2.2" fill="#f0f0f0" stroke="#4a4a4a" stroke-width="0.7" />
<line x1="465.4" y1="311.9" x2="469.4" y2="311.9" stroke="#666" stroke-width="0.5" />
<line x1="465.9" y1="313.6" x2="469.2" y2="313.0" stroke="#444" stroke-width="0.7" />
<text x="467.4" y="333.2" font-size="4.2" fill="#777" text-anchor="middle">20</text>
<ellipse cx="476.0" cy="312.3" rx="3.1" ry="2.2" fill="#f0f0f0" stroke="#4a4a4a" stroke-width="0.7" />
<line x1="474.0" y1="311.9" x2="478.0" y2="311.9" stroke="#666" stroke-width="0.5" />
<line x1="474.5" y1="313.6" x2="477.8" y2="313.0" stroke="#444" stroke-width="0.7" />
<text x="476.0" y="333.2" font-size="4.2" fill="#777" text-anchor="middle">22</text>
<ellipse cx="484.7" cy="312.3" rx="3.1" ry="2.2" fill="#f0f0f0" stroke="#4a4a4a" stroke-width="0.7" />
<line x1="482.7" y1="311.9" x2="486.7" y2="311.9" stroke="#666" stroke-width="0.5" />
<line x1="483.2" y1="313.6" x2="486.5" y2="313.0" stroke="#444" stroke-width="0.7" />
<text x="484.7" y="333.2" font-size="4.2" fill="#777" text-anchor="middle">24</text>
<ellipse cx="493.3" cy="312.3" rx="3.1" ry="2.2" fill="#f0f0f0" stroke="#4a4a4a" stroke-width="0.7" />
<line x1="491.3" y1="311.9" x2="495.3" y2="311.9" stroke="#666" stroke-width="0.5" />
<line x1="491.8" y1="313.6" x2="495.1" y2="313.0" stroke="#444" stroke-width="0.7" />
<text x="493.3" y="333.2" font-size="4.2" fill="#777" text-anchor="middle">26</text>
<ellipse cx="502.0" cy="312.3" rx="3.1" ry="2.2" fill="#f0f0f0" stroke="#4a4a4a" stroke-width="0.7" />
<line x1="500.0" y1="311.9" x2="504.0" y2="311.9" stroke="#666" stroke-width="0.5" />
<line x1="500.5" y1="313.6" x2="503.8" y2="313.0" stroke="#444" stroke-width="0.7" />
<text x="502.0" y="333.2" font-size="4.2" fill="#777" text-anchor="middle">28</text>
<ellipse cx="510.6" cy="312.3" rx="3.1" ry="2.2" fill="#f0f0f0" stroke="#4a4a4a" stroke-width="0.7" />
<line x1="508.6" y1="311.9" x2="512.6" y2="311.9" stroke="#666" stroke-width="0.5" />
<line x1="509.1" y1="313.6" x2="512.4" y2="313.0" stroke="#444" stroke-width="0.7" />
<text x="510.6" y="333.2" font-size="4.2" fill="#777" text-anchor="middle">30</text>
<ellipse cx="519.2" cy="312.3" rx="3.1" ry="2.2" fill="#f0f0f0" stroke="#4a4a4a" stroke-width="0.7" />
<line x1="517.2" y1="311.9" x2="521.2" y2="311.9" stroke="#666" stroke-width="0.5" />
<line x1="517.7" y1="313.6" x2="521.0" y2="313.0" stroke="#444" stroke-width="0.7" />
<text x="519.2" y="333.2" font-size="4.2" fill="#777" text-anchor="middle">32</text>
<ellipse cx="527.9" cy="312.3" rx="3.1" ry="2.2" fill="#f0f0f0" stroke="#4a4a4a" stroke-width="0.7" />
<line x1="525.9" y1="311.9" x2="529.9" y2="311.9" stroke="#666" stroke-width="0.5" />
<line x1="526.4" y1="313.6" x2="529.7" y2="313.0" stroke="#444" stroke-width="0.7" />
<text x="527.9" y="333.2" font-size="4.2" fill="#777" text-anchor="middle">34</text>
<ellipse cx="536.5" cy="312.3" rx="3.1" ry="2.2" fill="#f0f0f0" stroke="#4a4a4a" stroke-width="0.7" />
<line x1="534.5" y1="311.9" x2="538.5" y2="311.9" stroke="#666" stroke-width="0.5" />
<line x1="535.0" y1="313.6" x2="538.3" y2="313.0" stroke="#444" stroke-width="0.7" />
<text x="536.5" y="333.2" font-size="4.2" fill="#777" text-anchor="middle">36</text>
<rect x="541.0" y="308.5" width="95.0" height="26.5" fill="#f9f9f9" stroke="#999" stroke-width="0.7" rx="0" />
<line x1="541.0" y1="316.5" x2="636.0" y2="316.5" stroke="#c4c4c4" stroke-width="0.6" />
<rect x="541.5" y="317.0" width="94.0" height="10.5" fill="#f1f1f1" stroke="none" stroke-width="0.7" rx="0" />
<line x1="541.0" y1="327.0" x2="636.0" y2="327.0" stroke="#999" stroke-width="0.5" stroke-dasharray="2 2"/>
<line x1="541.0" y1="329.0" x2="636.0" y2="329.0" stroke="#888" stroke-width="0.6" />
<line x1="541.0" y1="334.5" x2="636.0" y2="334.5" stroke="#666" stroke-width="0.8" />
<ellipse cx="544.5" cy="312.3" rx="3.1" ry="2.2" fill="#f0f0f0" stroke="#4a4a4a" stroke-width="0.7" />
<line x1="542.5" y1="311.9" x2="546.5" y2="311.9" stroke="#666" stroke-width="0.5" />
<line x1="543.0" y1="313.6" x2="546.3" y2="313.0" stroke="#444" stroke-width="0.7" />
<text x="544.5" y="333.2" font-size="4.2" fill="#777" text-anchor="middle">14</text>
<ellipse cx="553.3" cy="312.3" rx="3.1" ry="2.2" fill="#f0f0f0" stroke="#4a4a4a" stroke-width="0.7" />
<line x1="551.3" y1="311.9" x2="555.3" y2="311.9" stroke="#666" stroke-width="0.5" />
<line x1="551.8" y1="313.6" x2="555.1" y2="313.0" stroke="#444" stroke-width="0.7" />
<text x="553.3" y="333.2" font-size="4.2" fill="#777" text-anchor="middle">16</text>
<ellipse cx="562.1" cy="312.3" rx="3.1" ry="2.2" fill="#f0f0f0" stroke="#4a4a4a" stroke-width="0.7" />
<line x1="560.1" y1="311.9" x2="564.1" y2="311.9" stroke="#666" stroke-width="0.5" />
<line x1="560.6" y1="313.6" x2="563.9" y2="313.0" stroke="#444" stroke-width="0.7" />
<text x="562.1" y="333.2" font-size="4.2" fill="#777" text-anchor="middle">18</text>
<ellipse cx="570.9" cy="312.3" rx="3.1" ry="2.2" fill="#f0f0f0" stroke="#4a4a4a" stroke-width="0.7" />
<line x1="568.9" y1="311.9" x2="572.9" y2="311.9" stroke="#666" stroke-width="0.5" />
<line x1="569.4" y1="313.6" x2="572.7" y2="313.0" stroke="#444" stroke-width="0.7" />
<text x="570.9" y="333.2" font-size="4.2" fill="#777" text-anchor="middle">20</text>
<ellipse cx="579.7" cy="312.3" rx="3.1" ry="2.2" fill="#f0f0f0" stroke="#4a4a4a" stroke-width="0.7" />
<line x1="577.7" y1="311.9" x2="581.7" y2="311.9" stroke="#666" stroke-width="0.5" />
<line x1="578.2" y1="313.6" x2="581.5" y2="313.0" stroke="#444" stroke-width="0.7" />
<text x="579.7" y="333.2" font-size="4.2" fill="#777" text-anchor="middle">22</text>
<ellipse cx="588.5" cy="312.3" rx="3.1" ry="2.2" fill="#f0f0f0" stroke="#4a4a4a" stroke-width="0.7" />
<line x1="586.5" y1="311.9" x2="590.5" y2="311.9" stroke="#666" stroke-width="0.5" />
<line x1="587.0" y1="313.6" x2="590.3" y2="313.0" stroke="#444" stroke-width="0.7" />
<text x="588.5" y="333.2" font-size="4.2" fill="#777" text-anchor="middle">24</text>
<ellipse cx="597.3" cy="312.3" rx="3.1" ry="2.2" fill="#f0f0f0" stroke="#4a4a4a" stroke-width="0.7" />
<line x1="595.3" y1="311.9" x2="599.3" y2="311.9" stroke="#666" stroke-width="0.5" />
<line x1="595.8" y1="313.6" x2="599.1" y2="313.0" stroke="#444" stroke-width="0.7" />
<text x="597.3" y="333.2" font-size="4.2" fill="#777" text-anchor="middle">26</text>
<ellipse cx="606.1" cy="312.3" rx="3.1" ry="2.2" fill="#f0f0f0" stroke="#4a4a4a" stroke-width="0.7" />
<line x1="604.1" y1="311.9" x2="608.1" y2="311.9" stroke="#666" stroke-width="0.5" />
<line x1="604.6" y1="313.6" x2="607.9" y2="313.0" stroke="#444" stroke-width="0.7" />
<text x="606.1" y="333.2" font-size="4.2" fill="#777" text-anchor="middle">28</text>
<ellipse cx="614.9" cy="312.3" rx="3.1" ry="2.2" fill="#f0f0f0" stroke="#4a4a4a" stroke-width="0.7" />
<line x1="612.9" y1="311.9" x2="616.9" y2="311.9" stroke="#666" stroke-width="0.5" />
<line x1="613.4" y1="313.6" x2="616.7" y2="313.0" stroke="#444" stroke-width="0.7" />
<text x="614.9" y="333.2" font-size="4.2" fill="#777" text-anchor="middle">30</text>
<ellipse cx="623.7" cy="312.3" rx="3.1" ry="2.2" fill="#f0f0f0" stroke="#4a4a4a" stroke-width="0.7" />
<line x1="621.7" y1="311.9" x2="625.7" y2="311.9" stroke="#666" stroke-width="0.5" />
<line x1="622.2" y1="313.6" x2="625.5" y2="313.0" stroke="#444" stroke-width="0.7" />
<text x="623.7" y="333.2" font-size="4.2" fill="#777" text-anchor="middle">32</text>
<ellipse cx="632.5" cy="312.3" rx="3.1" ry="2.2" fill="#f0f0f0" stroke="#4a4a4a" stroke-width="0.7" />
<line x1="630.5" y1="311.9" x2="634.5" y2="311.9" stroke="#666" stroke-width="0.5" />
<line x1="631.0" y1="313.6" x2="634.3" y2="313.0" stroke="#444" stroke-width="0.7" />
<text x="632.5" y="333.2" font-size="4.2" fill="#777" text-anchor="middle">34</text>
<rect x="438.0" y="335.0" width="198.0" height="12.0" fill="#f5f5f5" stroke="#a8a8a8" stroke-width="0.6" rx="0" />
<line x1="438.0" y1="340.6" x2="636.0" y2="340.6" stroke="#c8c8c8" stroke-width="0.6" />
<line x1="438.0" y1="335.0" x2="438.0" y2="347.0" stroke="#d4d4d4" stroke-width="0.5" />
<line x1="454.5" y1="335.0" x2="454.5" y2="347.0" stroke="#d4d4d4" stroke-width="0.5" />
<line x1="471.0" y1="335.0" x2="471.0" y2="347.0" stroke="#d4d4d4" stroke-width="0.5" />
<line x1="487.5" y1="335.0" x2="487.5" y2="347.0" stroke="#d4d4d4" stroke-width="0.5" />
<line x1="504.0" y1="335.0" x2="504.0" y2="347.0" stroke="#d4d4d4" stroke-width="0.5" />
<line x1="520.5" y1="335.0" x2="520.5" y2="347.0" stroke="#d4d4d4" stroke-width="0.5" />
<line x1="537.0" y1="335.0" x2="537.0" y2="347.0" stroke="#d4d4d4" stroke-width="0.5" />
<line x1="553.5" y1="335.0" x2="553.5" y2="347.0" stroke="#d4d4d4" stroke-width="0.5" />
<line x1="570.0" y1="335.0" x2="570.0" y2="347.0" stroke="#d4d4d4" stroke-width="0.5" />
<line x1="586.5" y1="335.0" x2="586.5" y2="347.0" stroke="#d4d4d4" stroke-width="0.5" />
<line x1="603.0" y1="335.0" x2="603.0" y2="347.0" stroke="#d4d4d4" stroke-width="0.5" />
<line x1="619.5" y1="335.0" x2="619.5" y2="347.0" stroke="#d4d4d4" stroke-width="0.5" />
<rect x="442.1" y="322.0" width="2.8" height="8.5" fill="#fff" stroke="#555" stroke-width="0.7" rx="1" />
<rect x="534.3" y="322.0" width="2.8" height="8.5" fill="#fff" stroke="#555" stroke-width="0.7" rx="1" />
<rect x="544.6" y="322.0" width="2.8" height="8.5" fill="#fff" stroke="#555" stroke-width="0.7" rx="1" />
<rect x="629.6" y="322.0" width="2.8" height="8.5" fill="#fff" stroke="#555" stroke-width="0.7" rx="1" />
<rect x="152.5" y="374.5" width="8.5" height="42.0" fill="#e9e9e9" stroke="none" stroke-width="0.7" rx="0" />
<rect x="152.5" y="374.5" width="8.5" height="42.0" fill="url(#hatch3)" stroke="none" stroke-width="0.7" rx="0" />
<rect x="161.0" y="367.2" width="17.5" height="48.0" fill="#f9f9f9" stroke="#c2c2c2" stroke-width="0.7" rx="1" />
<rect x="161.5" y="367.7" width="16.5" height="47.0" fill="url(#hatch)" stroke="none" stroke-width="0.7" rx="0" />
<ellipse cx="170.0" cy="378.0" rx="2.3" ry="1.2" fill="none" stroke="#aaa" stroke-width="0.6" />
<rect x="162.5" y="396.0" width="8.0" height="3.0" fill="none" stroke="#aaa" stroke-width="0.5" rx="0" />
<ellipse cx="173.5" cy="397.5" rx="1.2" ry="1.2" fill="none" stroke="#aaa" stroke-width="0.5" />
<line x1="159.5" y1="398.0" x2="159.5" y2="412.0" stroke="#bbb" stroke-width="0.6" />
<rect x="179.0" y="374.5" width="8.5" height="42.0" fill="#e9e9e9" stroke="none" stroke-width="0.7" rx="0" />
<rect x="179.0" y="374.5" width="8.5" height="42.0" fill="url(#hatch3)" stroke="none" stroke-width="0.7" rx="0" />
<rect x="187.5" y="367.2" width="17.5" height="48.0" fill="#f9f9f9" stroke="#c2c2c2" stroke-width="0.7" rx="1" />
<rect x="188.0" y="367.7" width="16.5" height="47.0" fill="url(#hatch)" stroke="none" stroke-width="0.7" rx="0" />
<ellipse cx="196.5" cy="378.0" rx="2.3" ry="1.2" fill="none" stroke="#aaa" stroke-width="0.6" />
<rect x="189.0" y="396.0" width="8.0" height="3.0" fill="none" stroke="#aaa" stroke-width="0.5" rx="0" />
<ellipse cx="200.0" cy="397.5" rx="1.2" ry="1.2" fill="none" stroke="#aaa" stroke-width="0.5" />
<line x1="186.0" y1="398.0" x2="186.0" y2="412.0" stroke="#bbb" stroke-width="0.6" />
<rect x="205.5" y="374.5" width="8.5" height="42.0" fill="#e9e9e9" stroke="none" stroke-width="0.7" rx="0" />
<rect x="205.5" y="374.5" width="8.5" height="42.0" fill="url(#hatch3)" stroke="none" stroke-width="0.7" rx="0" />
<rect x="214.0" y="367.2" width="17.5" height="48.0" fill="#f9f9f9" stroke="#c2c2c2" stroke-width="0.7" rx="1" />
<rect x="214.5" y="367.7" width="16.5" height="47.0" fill="url(#hatch)" stroke="none" stroke-width="0.7" rx="0" />
<ellipse cx="223.0" cy="378.0" rx="2.3" ry="1.2" fill="none" stroke="#aaa" stroke-width="0.6" />
<rect x="215.5" y="396.0" width="8.0" height="3.0" fill="none" stroke="#aaa" stroke-width="0.5" rx="0" />
<ellipse cx="226.5" cy="397.5" rx="1.2" ry="1.2" fill="none" stroke="#aaa" stroke-width="0.5" />
<line x1="212.5" y1="398.0" x2="212.5" y2="412.0" stroke="#bbb" stroke-width="0.6" />
<rect x="233.0" y="374.5" width="8.5" height="42.0" fill="#e9e9e9" stroke="none" stroke-width="0.7" rx="0" />
<rect x="233.0" y="374.5" width="8.5" height="42.0" fill="url(#hatch3)" stroke="none" stroke-width="0.7" rx="0" />
<rect x="241.5" y="367.2" width="17.5" height="48.0" fill="#f9f9f9" stroke="#c2c2c2" stroke-width="0.7" rx="1" />
<rect x="242.0" y="367.7" width="16.5" height="47.0" fill="url(#hatch)" stroke="none" stroke-width="0.7" rx="0" />
<ellipse cx="250.5" cy="378.0" rx="2.3" ry="1.2" fill="none" stroke="#aaa" stroke-width="0.6" />
<rect x="243.0" y="396.0" width="8.0" height="3.0" fill="none" stroke="#aaa" stroke-width="0.5" rx="0" />
<ellipse cx="254.0" cy="397.5" rx="1.2" ry="1.2" fill="none" stroke="#aaa" stroke-width="0.5" />
<line x1="240.0" y1="398.0" x2="240.0" y2="412.0" stroke="#bbb" stroke-width="0.6" />
<rect x="260.5" y="374.5" width="8.5" height="42.0" fill="#e9e9e9" stroke="none" stroke-width="0.7" rx="0" />
<rect x="260.5" y="374.5" width="8.5" height="42.0" fill="url(#hatch3)" stroke="none" stroke-width="0.7" rx="0" />
<rect x="269.0" y="367.2" width="17.5" height="48.0" fill="#f9f9f9" stroke="#c2c2c2" stroke-width="0.7" rx="1" />
<rect x="269.5" y="367.7" width="16.5" height="47.0" fill="url(#hatch)" stroke="none" stroke-width="0.7" rx="0" />
<ellipse cx="278.0" cy="378.0" rx="2.3" ry="1.2" fill="none" stroke="#aaa" stroke-width="0.6" />
<rect x="270.5" y="396.0" width="8.0" height="3.0" fill="none" stroke="#aaa" stroke-width="0.5" rx="0" />
<ellipse cx="281.5" cy="397.5" rx="1.2" ry="1.2" fill="none" stroke="#aaa" stroke-width="0.5" />
<line x1="267.5" y1="398.0" x2="267.5" y2="412.0" stroke="#bbb" stroke-width="0.6" />
<rect x="288.0" y="374.5" width="8.5" height="42.0" fill="#e9e9e9" stroke="none" stroke-width="0.7" rx="0" />
<rect x="288.0" y="374.5" width="8.5" height="42.0" fill="url(#hatch3)" stroke="none" stroke-width="0.7" rx="0" />
<rect x="296.5" y="367.2" width="17.5" height="48.0" fill="#f9f9f9" stroke="#c2c2c2" stroke-width="0.7" rx="1" />
<rect x="297.0" y="367.7" width="16.5" height="47.0" fill="url(#hatch)" stroke="none" stroke-width="0.7" rx="0" />
<ellipse cx="305.5" cy="378.0" rx="2.3" ry="1.2" fill="none" stroke="#aaa" stroke-width="0.6" />
<rect x="298.0" y="396.0" width="8.0" height="3.0" fill="none" stroke="#aaa" stroke-width="0.5" rx="0" />
<ellipse cx="309.0" cy="397.5" rx="1.2" ry="1.2" fill="none" stroke="#aaa" stroke-width="0.5" />
<line x1="295.0" y1="398.0" x2="295.0" y2="412.0" stroke="#bbb" stroke-width="0.6" />
<rect x="316.0" y="374.5" width="8.5" height="42.0" fill="#e9e9e9" stroke="none" stroke-width="0.7" rx="0" />
<rect x="316.0" y="374.5" width="8.5" height="42.0" fill="url(#hatch3)" stroke="none" stroke-width="0.7" rx="0" />
<rect x="324.5" y="367.2" width="17.5" height="48.0" fill="#f9f9f9" stroke="#c2c2c2" stroke-width="0.7" rx="1" />
<rect x="325.0" y="367.7" width="16.5" height="47.0" fill="url(#hatch)" stroke="none" stroke-width="0.7" rx="0" />
<ellipse cx="333.5" cy="378.0" rx="2.3" ry="1.2" fill="none" stroke="#aaa" stroke-width="0.6" />
<rect x="326.0" y="396.0" width="8.0" height="3.0" fill="none" stroke="#aaa" stroke-width="0.5" rx="0" />
<ellipse cx="337.0" cy="397.5" rx="1.2" ry="1.2" fill="none" stroke="#aaa" stroke-width="0.5" />
<line x1="323.0" y1="398.0" x2="323.0" y2="412.0" stroke="#bbb" stroke-width="0.6" />
<rect x="343.5" y="374.5" width="8.5" height="42.0" fill="#e9e9e9" stroke="none" stroke-width="0.7" rx="0" />
<rect x="343.5" y="374.5" width="8.5" height="42.0" fill="url(#hatch3)" stroke="none" stroke-width="0.7" rx="0" />
<rect x="352.0" y="367.2" width="17.5" height="48.0" fill="#f9f9f9" stroke="#c2c2c2" stroke-width="0.7" rx="1" />
<rect x="352.5" y="367.7" width="16.5" height="47.0" fill="url(#hatch)" stroke="none" stroke-width="0.7" rx="0" />
<ellipse cx="361.0" cy="378.0" rx="2.3" ry="1.2" fill="none" stroke="#aaa" stroke-width="0.6" />
<rect x="353.5" y="396.0" width="8.0" height="3.0" fill="none" stroke="#aaa" stroke-width="0.5" rx="0" />
<ellipse cx="364.5" cy="397.5" rx="1.2" ry="1.2" fill="none" stroke="#aaa" stroke-width="0.5" />
<line x1="350.5" y1="398.0" x2="350.5" y2="412.0" stroke="#bbb" stroke-width="0.6" />
<rect x="371.1" y="374.5" width="8.5" height="42.0" fill="#e9e9e9" stroke="none" stroke-width="0.7" rx="0" />
<rect x="371.1" y="374.5" width="8.5" height="42.0" fill="url(#hatch3)" stroke="none" stroke-width="0.7" rx="0" />
<rect x="379.6" y="367.2" width="17.5" height="48.0" fill="#f9f9f9" stroke="#c2c2c2" stroke-width="0.7" rx="1" />
<rect x="380.1" y="367.7" width="16.5" height="47.0" fill="url(#hatch)" stroke="none" stroke-width="0.7" rx="0" />
<ellipse cx="388.6" cy="378.0" rx="2.3" ry="1.2" fill="none" stroke="#aaa" stroke-width="0.6" />
<rect x="381.1" y="396.0" width="8.0" height="3.0" fill="none" stroke="#aaa" stroke-width="0.5" rx="0" />
<ellipse cx="392.1" cy="397.5" rx="1.2" ry="1.2" fill="none" stroke="#aaa" stroke-width="0.5" />
<line x1="378.1" y1="398.0" x2="378.1" y2="412.0" stroke="#bbb" stroke-width="0.6" />
<rect x="398.2" y="374.5" width="8.5" height="42.0" fill="#e9e9e9" stroke="none" stroke-width="0.7" rx="0" />
<rect x="398.2" y="374.5" width="8.5" height="42.0" fill="url(#hatch3)" stroke="none" stroke-width="0.7" rx="0" />
<rect x="406.7" y="367.2" width="17.5" height="48.0" fill="#f9f9f9" stroke="#c2c2c2" stroke-width="0.7" rx="1" />
<rect x="407.2" y="367.7" width="16.5" height="47.0" fill="url(#hatch)" stroke="none" stroke-width="0.7" rx="0" />
<ellipse cx="415.7" cy="378.0" rx="2.3" ry="1.2" fill="none" stroke="#aaa" stroke-width="0.6" />
<rect x="408.2" y="396.0" width="8.0" height="3.0" fill="none" stroke="#aaa" stroke-width="0.5" rx="0" />
<ellipse cx="419.2" cy="397.5" rx="1.2" ry="1.2" fill="none" stroke="#aaa" stroke-width="0.5" />
<line x1="405.2" y1="398.0" x2="405.2" y2="412.0" stroke="#bbb" stroke-width="0.6" />
<rect x="204.5" y="423.0" width="23.0" height="27.0" fill="#f8f8f8" stroke="#bdbdbd" stroke-width="0.7" rx="0" />
<rect x="205.0" y="423.5" width="22.0" height="26.0" fill="url(#hatch)" stroke="none" stroke-width="0.7" rx="0" />
<rect x="211.5" y="418.0" width="9.0" height="13.0" fill="none" stroke="#bdbdbd" stroke-width="0.6" rx="3" />
<ellipse cx="215.5" cy="415.0" rx="8.8" ry="4.2" fill="#f2f2f2" stroke="#2a2a2a" stroke-width="0.9" />
<ellipse cx="215.5" cy="415.6" rx="6.5" ry="2.8" fill="none" stroke="#666" stroke-width="0.5" />
<rect x="215.8" y="405.5" width="5.0" height="11.0" fill="#fff" stroke="#444" stroke-width="0.7" rx="2.5" transform="rotate(18 218.3 411)"/>
<line x1="210.5" y1="417.5" x2="216.5" y2="417.5" stroke="#111" stroke-width="1.2" />
<rect x="233.0" y="423.0" width="23.0" height="27.0" fill="#f8f8f8" stroke="#bdbdbd" stroke-width="0.7" rx="0" />
<rect x="233.5" y="423.5" width="22.0" height="26.0" fill="url(#hatch)" stroke="none" stroke-width="0.7" rx="0" />
<rect x="240.0" y="418.0" width="9.0" height="13.0" fill="none" stroke="#bdbdbd" stroke-width="0.6" rx="3" />
<ellipse cx="244.0" cy="415.0" rx="8.8" ry="4.2" fill="#f2f2f2" stroke="#2a2a2a" stroke-width="0.9" />
<ellipse cx="244.0" cy="415.6" rx="6.5" ry="2.8" fill="none" stroke="#666" stroke-width="0.5" />
<rect x="244.3" y="405.5" width="5.0" height="11.0" fill="#fff" stroke="#444" stroke-width="0.7" rx="2.5" transform="rotate(18 246.8 411)"/>
<line x1="239.0" y1="417.5" x2="245.0" y2="417.5" stroke="#111" stroke-width="1.2" />
<rect x="261.5" y="423.0" width="23.0" height="27.0" fill="#f8f8f8" stroke="#bdbdbd" stroke-width="0.7" rx="0" />
<rect x="262.0" y="423.5" width="22.0" height="26.0" fill="url(#hatch)" stroke="none" stroke-width="0.7" rx="0" />
<rect x="268.5" y="418.0" width="9.0" height="13.0" fill="none" stroke="#bdbdbd" stroke-width="0.6" rx="3" />
<ellipse cx="272.5" cy="415.0" rx="8.8" ry="4.2" fill="#f2f2f2" stroke="#2a2a2a" stroke-width="0.9" />
<ellipse cx="272.5" cy="415.6" rx="6.5" ry="2.8" fill="none" stroke="#666" stroke-width="0.5" />
<rect x="272.8" y="405.5" width="5.0" height="11.0" fill="#fff" stroke="#444" stroke-width="0.7" rx="2.5" transform="rotate(18 275.3 411)"/>
<line x1="267.5" y1="417.5" x2="273.5" y2="417.5" stroke="#111" stroke-width="1.2" />
<rect x="290.0" y="423.0" width="23.0" height="27.0" fill="#f8f8f8" stroke="#bdbdbd" stroke-width="0.7" rx="0" />
<rect x="290.5" y="423.5" width="22.0" height="26.0" fill="url(#hatch)" stroke="none" stroke-width="0.7" rx="0" />
<rect x="297.0" y="418.0" width="9.0" height="13.0" fill="none" stroke="#bdbdbd" stroke-width="0.6" rx="3" />
<ellipse cx="301.0" cy="415.0" rx="8.8" ry="4.2" fill="#f2f2f2" stroke="#2a2a2a" stroke-width="0.9" />
<ellipse cx="301.0" cy="415.6" rx="6.5" ry="2.8" fill="none" stroke="#666" stroke-width="0.5" />
<rect x="301.3" y="405.5" width="5.0" height="11.0" fill="#fff" stroke="#444" stroke-width="0.7" rx="2.5" transform="rotate(18 303.8 411)"/>
<line x1="296.0" y1="417.5" x2="302.0" y2="417.5" stroke="#111" stroke-width="1.2" />
<rect x="318.5" y="423.0" width="23.0" height="27.0" fill="#f8f8f8" stroke="#bdbdbd" stroke-width="0.7" rx="0" />
<rect x="319.0" y="423.5" width="22.0" height="26.0" fill="url(#hatch)" stroke="none" stroke-width="0.7" rx="0" />
<rect x="325.5" y="418.0" width="9.0" height="13.0" fill="none" stroke="#bdbdbd" stroke-width="0.6" rx="3" />
<ellipse cx="329.5" cy="415.0" rx="8.8" ry="4.2" fill="#f2f2f2" stroke="#2a2a2a" stroke-width="0.9" />
<ellipse cx="329.5" cy="415.6" rx="6.5" ry="2.8" fill="none" stroke="#666" stroke-width="0.5" />
<rect x="329.8" y="405.5" width="5.0" height="11.0" fill="#fff" stroke="#444" stroke-width="0.7" rx="2.5" transform="rotate(18 332.3 411)"/>
<line x1="324.5" y1="417.5" x2="330.5" y2="417.5" stroke="#111" stroke-width="1.2" />
<rect x="347.0" y="423.0" width="23.0" height="27.0" fill="#f8f8f8" stroke="#bdbdbd" stroke-width="0.7" rx="0" />
<rect x="347.5" y="423.5" width="22.0" height="26.0" fill="url(#hatch)" stroke="none" stroke-width="0.7" rx="0" />
<rect x="354.0" y="418.0" width="9.0" height="13.0" fill="none" stroke="#bdbdbd" stroke-width="0.6" rx="3" />
<ellipse cx="358.0" cy="415.0" rx="8.8" ry="4.2" fill="#f2f2f2" stroke="#2a2a2a" stroke-width="0.9" />
<ellipse cx="358.0" cy="415.6" rx="6.5" ry="2.8" fill="none" stroke="#666" stroke-width="0.5" />
<rect x="358.3" y="405.5" width="5.0" height="11.0" fill="#fff" stroke="#444" stroke-width="0.7" rx="2.5" transform="rotate(18 360.8 411)"/>
<line x1="353.0" y1="417.5" x2="359.0" y2="417.5" stroke="#111" stroke-width="1.2" />
<rect x="375.5" y="423.0" width="23.0" height="27.0" fill="#f8f8f8" stroke="#bdbdbd" stroke-width="0.7" rx="0" />
<rect x="376.0" y="423.5" width="22.0" height="26.0" fill="url(#hatch)" stroke="none" stroke-width="0.7" rx="0" />
<rect x="382.5" y="418.0" width="9.0" height="13.0" fill="none" stroke="#bdbdbd" stroke-width="0.6" rx="3" />
<ellipse cx="386.5" cy="415.0" rx="8.8" ry="4.2" fill="#f2f2f2" stroke="#2a2a2a" stroke-width="0.9" />
<ellipse cx="386.5" cy="415.6" rx="6.5" ry="2.8" fill="none" stroke="#666" stroke-width="0.5" />
<rect x="386.8" y="405.5" width="5.0" height="11.0" fill="#fff" stroke="#444" stroke-width="0.7" rx="2.5" transform="rotate(18 389.3 411)"/>
<line x1="381.5" y1="417.5" x2="387.5" y2="417.5" stroke="#111" stroke-width="1.2" />
<rect x="404.0" y="423.0" width="23.0" height="27.0" fill="#f8f8f8" stroke="#bdbdbd" stroke-width="0.7" rx="0" />
<rect x="404.5" y="423.5" width="22.0" height="26.0" fill="url(#hatch)" stroke="none" stroke-width="0.7" rx="0" />
<rect x="411.0" y="418.0" width="9.0" height="13.0" fill="none" stroke="#bdbdbd" stroke-width="0.6" rx="3" />
<ellipse cx="415.0" cy="415.0" rx="8.8" ry="4.2" fill="#f2f2f2" stroke="#2a2a2a" stroke-width="0.9" />
<ellipse cx="415.0" cy="415.6" rx="6.5" ry="2.8" fill="none" stroke="#666" stroke-width="0.5" />
<rect x="415.3" y="405.5" width="5.0" height="11.0" fill="#fff" stroke="#444" stroke-width="0.7" rx="2.5" transform="rotate(18 417.8 411)"/>
<line x1="410.0" y1="417.5" x2="416.0" y2="417.5" stroke="#111" stroke-width="1.2" />
<rect x="117.0" y="373.0" width="24.0" height="48.0" fill="#f2f2f2" stroke="#a8a8a8" stroke-width="0.6" rx="0" />
<rect x="118.5" y="376.0" width="10.0" height="5.0" fill="none" stroke="#b5b5b5" stroke-width="0.5" rx="0" />
<text x="123.5" y="380.0" font-size="3.5" fill="#999" text-anchor="middle">20</text>
<rect x="118.5" y="383.3" width="10.0" height="5.0" fill="none" stroke="#b5b5b5" stroke-width="0.5" rx="0" />
<text x="123.5" y="387.3" font-size="3.5" fill="#999" text-anchor="middle">21</text>
<rect x="118.5" y="390.6" width="10.0" height="5.0" fill="none" stroke="#b5b5b5" stroke-width="0.5" rx="0" />
<text x="123.5" y="394.6" font-size="3.5" fill="#999" text-anchor="middle">22</text>
<rect x="118.5" y="397.9" width="10.0" height="5.0" fill="none" stroke="#b5b5b5" stroke-width="0.5" rx="0" />
<text x="123.5" y="401.9" font-size="3.5" fill="#999" text-anchor="middle">23</text>
<rect x="118.5" y="405.2" width="10.0" height="5.0" fill="none" stroke="#b5b5b5" stroke-width="0.5" rx="0" />
<text x="123.5" y="409.2" font-size="3.5" fill="#999" text-anchor="middle">24</text>
<rect x="118.5" y="412.5" width="10.0" height="5.0" fill="none" stroke="#b5b5b5" stroke-width="0.5" rx="0" />
<text x="123.5" y="416.5" font-size="3.5" fill="#999" text-anchor="middle">25</text>
<rect x="131.0" y="375.0" width="8.0" height="44.0" fill="#e6e6e6" stroke="#c0c0c0" stroke-width="0.5" rx="0" />
<polygon points="100.0,420.0 140.0,412.0 148.0,418.0 148.0,452.0 100.0,456.0" fill="#eeeeee" stroke="#a8a8a8" stroke-width="0.6" />
<line x1="104.0" y1="423.0" x2="104.0" y2="450.0" stroke="#b5b5b5" stroke-width="0.9" />
<line x1="107.6" y1="423.0" x2="107.6" y2="450.0" stroke="#b5b5b5" stroke-width="0.9" />
<line x1="111.2" y1="423.0" x2="111.2" y2="450.0" stroke="#b5b5b5" stroke-width="0.9" />
<line x1="114.8" y1="423.0" x2="114.8" y2="450.0" stroke="#b5b5b5" stroke-width="0.9" />
<line x1="118.4" y1="423.0" x2="118.4" y2="450.0" stroke="#b5b5b5" stroke-width="0.9" />
<line x1="122.0" y1="423.0" x2="122.0" y2="450.0" stroke="#b5b5b5" stroke-width="0.9" />
<line x1="125.6" y1="423.0" x2="125.6" y2="450.0" stroke="#b5b5b5" stroke-width="0.9" />
<line x1="129.2" y1="423.0" x2="129.2" y2="450.0" stroke="#b5b5b5" stroke-width="0.9" />
<line x1="132.8" y1="423.0" x2="132.8" y2="450.0" stroke="#b5b5b5" stroke-width="0.9" />
<rect x="120.0" y="425.0" width="16.0" height="10.0" fill="#dcdcdc" stroke="#aaa" stroke-width="0.5" rx="0" />
<rect x="143.0" y="358.0" width="7.0" height="28.0" fill="#f0f0f0" stroke="#c4c4c4" stroke-width="0.6" rx="3" />
<rect x="130.0" y="438.0" width="7.0" height="30.0" fill="#f0f0f0" stroke="#c4c4c4" stroke-width="0.6" rx="3" />
<rect x="142.5" y="351.0" width="7.0" height="8.0" fill="#f0f0f0" stroke="#5a5a5a" stroke-width="0.8" rx="2" />
<ellipse cx="146.0" cy="358.0" rx="3.6" ry="1.5" fill="none" stroke="#111" stroke-width="1.2" />
<rect x="129.5" y="430.5" width="7.0" height="8.0" fill="#f0f0f0" stroke="#5a5a5a" stroke-width="0.8" rx="2" />
<ellipse cx="133.0" cy="437.5" rx="3.6" ry="1.5" fill="none" stroke="#111" stroke-width="1.2" />
<rect x="432.5" y="348.0" width="7.0" height="8.0" fill="#f0f0f0" stroke="#5a5a5a" stroke-width="0.8" rx="2" />
<ellipse cx="436.0" cy="355.0" rx="3.6" ry="1.5" fill="none" stroke="#111" stroke-width="1.2" />
<rect x="651.0" y="348.0" width="7.0" height="8.0" fill="#f0f0f0" stroke="#5a5a5a" stroke-width="0.8" rx="2" />
<ellipse cx="654.5" cy="355.0" rx="3.6" ry="1.5" fill="none" stroke="#111" stroke-width="1.2" />
<rect x="153.0" y="441.0" width="2.5" height="2.5" fill="none" stroke="#b0b0b0" stroke-width="0.5" rx="0" />
<rect x="161.5" y="441.0" width="2.5" height="2.5" fill="none" stroke="#b0b0b0" stroke-width="0.5" rx="0" />
<rect x="170.0" y="441.0" width="2.5" height="2.5" fill="none" stroke="#b0b0b0" stroke-width="0.5" rx="0" />
<rect x="178.5" y="441.0" width="2.5" height="2.5" fill="none" stroke="#b0b0b0" stroke-width="0.5" rx="0" />
<rect x="187.0" y="441.0" width="2.5" height="2.5" fill="none" stroke="#b0b0b0" stroke-width="0.5" rx="0" />
<rect x="195.5" y="441.0" width="2.5" height="2.5" fill="none" stroke="#b0b0b0" stroke-width="0.5" rx="0" />
<rect x="153.0" y="446.0" width="2.5" height="2.5" fill="none" stroke="#b0b0b0" stroke-width="0.5" rx="0" />
<rect x="161.5" y="446.0" width="2.5" height="2.5" fill="none" stroke="#b0b0b0" stroke-width="0.5" rx="0" />
<rect x="170.0" y="446.0" width="2.5" height="2.5" fill="none" stroke="#b0b0b0" stroke-width="0.5" rx="0" />
<rect x="178.5" y="446.0" width="2.5" height="2.5" fill="none" stroke="#b0b0b0" stroke-width="0.5" rx="0" />
<rect x="187.0" y="446.0" width="2.5" height="2.5" fill="none" stroke="#b0b0b0" stroke-width="0.5" rx="0" />
<rect x="195.5" y="446.0" width="2.5" height="2.5" fill="none" stroke="#b0b0b0" stroke-width="0.5" rx="0" />
<rect x="153.0" y="451.0" width="2.5" height="2.5" fill="none" stroke="#b0b0b0" stroke-width="0.5" rx="0" />
<rect x="161.5" y="451.0" width="2.5" height="2.5" fill="none" stroke="#b0b0b0" stroke-width="0.5" rx="0" />
<rect x="170.0" y="451.0" width="2.5" height="2.5" fill="none" stroke="#b0b0b0" stroke-width="0.5" rx="0" />
<rect x="178.5" y="451.0" width="2.5" height="2.5" fill="none" stroke="#b0b0b0" stroke-width="0.5" rx="0" />
<rect x="187.0" y="451.0" width="2.5" height="2.5" fill="none" stroke="#b0b0b0" stroke-width="0.5" rx="0" />
<rect x="195.5" y="451.0" width="2.5" height="2.5" fill="none" stroke="#b0b0b0" stroke-width="0.5" rx="0" />
<rect x="228.0" y="475.0" width="6.0" height="8.0" fill="none" stroke="#a8a8a8" stroke-width="0.6" rx="0" />
<rect x="238.0" y="477.0" width="10.0" height="6.0" fill="none" stroke="#a8a8a8" stroke-width="0.6" rx="0" />
<rect x="251.0" y="476.0" width="5.0" height="8.0" fill="none" stroke="#a8a8a8" stroke-width="0.6" rx="2" />
<rect x="413.0" y="470.0" width="9.0" height="14.0" fill="none" stroke="#a8a8a8" stroke-width="0.6" rx="2" />
<rect x="388.0" y="506.5" width="48.0" height="31.0" fill="#efefef" stroke="none" stroke-width="0.7" rx="0" />
<rect x="388.0" y="506.5" width="48.0" height="15.0" fill="url(#hatch3)" stroke="none" stroke-width="0.7" rx="0" />
<line x1="390.0" y1="509.0" x2="436.0" y2="509.0" stroke="#d0d0d0" stroke-width="0.8" />
<line x1="390.0" y1="514.0" x2="436.0" y2="514.0" stroke="#d0d0d0" stroke-width="0.8" />
<line x1="390.0" y1="519.0" x2="436.0" y2="519.0" stroke="#d0d0d0" stroke-width="0.8" />
<line x1="390.0" y1="524.0" x2="436.0" y2="524.0" stroke="#d0d0d0" stroke-width="0.8" />
<line x1="390.0" y1="529.0" x2="436.0" y2="529.0" stroke="#d0d0d0" stroke-width="0.8" />
<line x1="390.0" y1="534.0" x2="436.0" y2="534.0" stroke="#d0d0d0" stroke-width="0.8" />
<rect x="388.0" y="506.5" width="4.0" height="31.0" fill="#aaa" stroke="none" stroke-width="0.7" rx="0" />
<rect x="90.0" y="506.5" width="39.0" height="30.5" fill="#f7f7f7" stroke="#8a8a8a" stroke-width="0.8" rx="0" />
<line x1="90.0" y1="518.0" x2="129.0" y2="518.0" stroke="#aaa" stroke-width="0.6" />
<line x1="90.0" y1="526.5" x2="129.0" y2="526.5" stroke="#444" stroke-width="0.8" />
<line x1="90.0" y1="507.0" x2="129.0" y2="507.0" stroke="#444" stroke-width="0.9" />
<ellipse cx="94.9" cy="512.5" rx="3.2" ry="2.8" fill="#e0e0e0" stroke="#444" stroke-width="0.65" stroke-dasharray="1.2 0.6"/>
<line x1="92.9" y1="513.7" x2="96.9" y2="511.3" stroke="#444" stroke-width="0.65" />
<rect x="91.7" y="527.5" width="6.4" height="8.0" fill="#f6f6f6" stroke="#3c3c3c" stroke-width="0.7" rx="0" />
<polyline points="92.8,531.7 92.8,528.8 97.0,528.8 97.0,531.7" fill="none" stroke="#3c3c3c" stroke-width="0.65" />
<ellipse cx="104.6" cy="512.5" rx="3.2" ry="2.8" fill="#e0e0e0" stroke="#444" stroke-width="0.65" stroke-dasharray="1.2 0.6"/>
<line x1="102.6" y1="513.7" x2="106.6" y2="511.3" stroke="#444" stroke-width="0.65" />
<rect x="101.4" y="527.5" width="6.4" height="8.0" fill="#f6f6f6" stroke="#3c3c3c" stroke-width="0.7" rx="0" />
<polyline points="102.5,531.7 102.5,528.8 106.7,528.8 106.7,531.7" fill="none" stroke="#3c3c3c" stroke-width="0.65" />
<ellipse cx="114.4" cy="512.5" rx="3.2" ry="2.8" fill="#e0e0e0" stroke="#444" stroke-width="0.65" stroke-dasharray="1.2 0.6"/>
<line x1="112.4" y1="513.7" x2="116.4" y2="511.3" stroke="#444" stroke-width="0.65" />
<rect x="111.2" y="527.5" width="6.4" height="8.0" fill="#f6f6f6" stroke="#3c3c3c" stroke-width="0.7" rx="0" />
<polyline points="112.3,531.7 112.3,528.8 116.5,528.8 116.5,531.7" fill="none" stroke="#3c3c3c" stroke-width="0.65" />
<ellipse cx="124.1" cy="512.5" rx="3.2" ry="2.8" fill="#e0e0e0" stroke="#444" stroke-width="0.65" stroke-dasharray="1.2 0.6"/>
<line x1="122.1" y1="513.7" x2="126.1" y2="511.3" stroke="#444" stroke-width="0.65" />
<rect x="120.9" y="527.5" width="6.4" height="8.0" fill="#f6f6f6" stroke="#3c3c3c" stroke-width="0.7" rx="0" />
<polyline points="122.0,531.7 122.0,528.8 126.2,528.8 126.2,531.7" fill="none" stroke="#3c3c3c" stroke-width="0.65" />
<line x1="90.0" y1="536.5" x2="129.0" y2="536.5" stroke="#444" stroke-width="0.8" />
<rect x="131.0" y="506.5" width="78.0" height="30.5" fill="#f7f7f7" stroke="#8a8a8a" stroke-width="0.8" rx="0" />
<line x1="131.0" y1="518.0" x2="209.0" y2="518.0" stroke="#aaa" stroke-width="0.6" />
<line x1="131.0" y1="526.5" x2="209.0" y2="526.5" stroke="#444" stroke-width="0.8" />
<line x1="131.0" y1="507.0" x2="209.0" y2="507.0" stroke="#444" stroke-width="0.9" />
<ellipse cx="135.9" cy="512.5" rx="3.2" ry="2.8" fill="#e0e0e0" stroke="#444" stroke-width="0.65" stroke-dasharray="1.2 0.6"/>
<line x1="133.9" y1="513.7" x2="137.9" y2="511.3" stroke="#444" stroke-width="0.65" />
<rect x="132.7" y="527.5" width="6.4" height="8.0" fill="#f6f6f6" stroke="#3c3c3c" stroke-width="0.7" rx="0" />
<polyline points="133.8,531.7 133.8,528.8 138.0,528.8 138.0,531.7" fill="none" stroke="#3c3c3c" stroke-width="0.65" />
<ellipse cx="145.6" cy="512.5" rx="3.2" ry="2.8" fill="#e0e0e0" stroke="#444" stroke-width="0.65" stroke-dasharray="1.2 0.6"/>
<line x1="143.6" y1="513.7" x2="147.6" y2="511.3" stroke="#444" stroke-width="0.65" />
<rect x="142.4" y="527.5" width="6.4" height="8.0" fill="#f6f6f6" stroke="#3c3c3c" stroke-width="0.7" rx="0" />
<polyline points="143.5,531.7 143.5,528.8 147.7,528.8 147.7,531.7" fill="none" stroke="#3c3c3c" stroke-width="0.65" />
<ellipse cx="155.4" cy="512.5" rx="3.2" ry="2.8" fill="#e0e0e0" stroke="#444" stroke-width="0.65" stroke-dasharray="1.2 0.6"/>
<line x1="153.4" y1="513.7" x2="157.4" y2="511.3" stroke="#444" stroke-width="0.65" />
<rect x="152.2" y="527.5" width="6.4" height="8.0" fill="#f6f6f6" stroke="#3c3c3c" stroke-width="0.7" rx="0" />
<polyline points="153.3,531.7 153.3,528.8 157.5,528.8 157.5,531.7" fill="none" stroke="#3c3c3c" stroke-width="0.65" />
<ellipse cx="165.1" cy="512.5" rx="3.2" ry="2.8" fill="#e0e0e0" stroke="#444" stroke-width="0.65" stroke-dasharray="1.2 0.6"/>
<line x1="163.1" y1="513.7" x2="167.1" y2="511.3" stroke="#444" stroke-width="0.65" />
<rect x="161.9" y="527.5" width="6.4" height="8.0" fill="#f6f6f6" stroke="#3c3c3c" stroke-width="0.7" rx="0" />
<polyline points="163.0,531.7 163.0,528.8 167.2,528.8 167.2,531.7" fill="none" stroke="#3c3c3c" stroke-width="0.65" />
<ellipse cx="174.9" cy="512.5" rx="3.2" ry="2.8" fill="#e0e0e0" stroke="#444" stroke-width="0.65" stroke-dasharray="1.2 0.6"/>
<line x1="172.9" y1="513.7" x2="176.9" y2="511.3" stroke="#444" stroke-width="0.65" />
<rect x="171.7" y="527.5" width="6.4" height="8.0" fill="#f6f6f6" stroke="#3c3c3c" stroke-width="0.7" rx="0" />
<polyline points="172.8,531.7 172.8,528.8 177.0,528.8 177.0,531.7" fill="none" stroke="#3c3c3c" stroke-width="0.65" />
<ellipse cx="184.6" cy="512.5" rx="3.2" ry="2.8" fill="#e0e0e0" stroke="#444" stroke-width="0.65" stroke-dasharray="1.2 0.6"/>
<line x1="182.6" y1="513.7" x2="186.6" y2="511.3" stroke="#444" stroke-width="0.65" />
<rect x="181.4" y="527.5" width="6.4" height="8.0" fill="#f6f6f6" stroke="#3c3c3c" stroke-width="0.7" rx="0" />
<polyline points="182.5,531.7 182.5,528.8 186.7,528.8 186.7,531.7" fill="none" stroke="#3c3c3c" stroke-width="0.65" />
<ellipse cx="194.4" cy="512.5" rx="3.2" ry="2.8" fill="#e0e0e0" stroke="#444" stroke-width="0.65" stroke-dasharray="1.2 0.6"/>
<line x1="192.4" y1="513.7" x2="196.4" y2="511.3" stroke="#444" stroke-width="0.65" />
<rect x="191.2" y="527.5" width="6.4" height="8.0" fill="#f6f6f6" stroke="#3c3c3c" stroke-width="0.7" rx="0" />
<polyline points="192.3,531.7 192.3,528.8 196.5,528.8 196.5,531.7" fill="none" stroke="#3c3c3c" stroke-width="0.65" />
<ellipse cx="204.1" cy="512.5" rx="3.2" ry="2.8" fill="#e0e0e0" stroke="#444" stroke-width="0.65" stroke-dasharray="1.2 0.6"/>
<line x1="202.1" y1="513.7" x2="206.1" y2="511.3" stroke="#444" stroke-width="0.65" />
<rect x="200.9" y="527.5" width="6.4" height="8.0" fill="#f6f6f6" stroke="#3c3c3c" stroke-width="0.7" rx="0" />
<polyline points="202.0,531.7 202.0,528.8 206.2,528.8 206.2,531.7" fill="none" stroke="#3c3c3c" stroke-width="0.65" />
<line x1="131.0" y1="536.5" x2="209.0" y2="536.5" stroke="#444" stroke-width="0.8" />
<rect x="211.0" y="506.5" width="48.5" height="30.5" fill="#f7f7f7" stroke="#8a8a8a" stroke-width="0.8" rx="0" />
<line x1="211.0" y1="518.0" x2="259.5" y2="518.0" stroke="#aaa" stroke-width="0.6" />
<line x1="211.0" y1="526.5" x2="259.5" y2="526.5" stroke="#444" stroke-width="0.8" />
<line x1="211.0" y1="507.0" x2="259.5" y2="507.0" stroke="#444" stroke-width="0.9" />
<ellipse cx="215.8" cy="512.5" rx="3.2" ry="2.8" fill="#e0e0e0" stroke="#444" stroke-width="0.65" stroke-dasharray="1.2 0.6"/>
<line x1="213.8" y1="513.7" x2="217.8" y2="511.3" stroke="#444" stroke-width="0.65" />
<rect x="212.7" y="527.5" width="6.4" height="8.0" fill="#f6f6f6" stroke="#3c3c3c" stroke-width="0.7" rx="0" />
<polyline points="213.8,531.7 213.8,528.8 218.0,528.8 218.0,531.7" fill="none" stroke="#3c3c3c" stroke-width="0.65" />
<ellipse cx="225.6" cy="512.5" rx="3.2" ry="2.8" fill="#e0e0e0" stroke="#444" stroke-width="0.65" stroke-dasharray="1.2 0.6"/>
<line x1="223.6" y1="513.7" x2="227.6" y2="511.3" stroke="#444" stroke-width="0.65" />
<rect x="222.4" y="527.5" width="6.4" height="8.0" fill="#f6f6f6" stroke="#3c3c3c" stroke-width="0.7" rx="0" />
<polyline points="223.5,531.7 223.5,528.8 227.7,528.8 227.7,531.7" fill="none" stroke="#3c3c3c" stroke-width="0.65" />
<ellipse cx="235.2" cy="512.5" rx="3.2" ry="2.8" fill="#e0e0e0" stroke="#444" stroke-width="0.65" stroke-dasharray="1.2 0.6"/>
<line x1="233.2" y1="513.7" x2="237.2" y2="511.3" stroke="#444" stroke-width="0.65" />
<rect x="232.1" y="527.5" width="6.4" height="8.0" fill="#f6f6f6" stroke="#3c3c3c" stroke-width="0.7" rx="0" />
<polyline points="233.2,531.7 233.2,528.8 237.4,528.8 237.4,531.7" fill="none" stroke="#3c3c3c" stroke-width="0.65" />
<ellipse cx="244.9" cy="512.5" rx="3.2" ry="2.8" fill="#e0e0e0" stroke="#444" stroke-width="0.65" stroke-dasharray="1.2 0.6"/>
<line x1="242.9" y1="513.7" x2="246.9" y2="511.3" stroke="#444" stroke-width="0.65" />
<rect x="241.8" y="527.5" width="6.4" height="8.0" fill="#f6f6f6" stroke="#3c3c3c" stroke-width="0.7" rx="0" />
<polyline points="242.8,531.7 242.8,528.8 247.1,528.8 247.1,531.7" fill="none" stroke="#3c3c3c" stroke-width="0.65" />
<ellipse cx="254.7" cy="512.5" rx="3.2" ry="2.8" fill="#e0e0e0" stroke="#444" stroke-width="0.65" stroke-dasharray="1.2 0.6"/>
<line x1="252.7" y1="513.7" x2="256.6" y2="511.3" stroke="#444" stroke-width="0.65" />
<rect x="251.5" y="527.5" width="6.4" height="8.0" fill="#f6f6f6" stroke="#3c3c3c" stroke-width="0.7" rx="0" />
<polyline points="252.6,531.7 252.6,528.8 256.8,528.8 256.8,531.7" fill="none" stroke="#3c3c3c" stroke-width="0.65" />
<line x1="211.0" y1="536.5" x2="259.5" y2="536.5" stroke="#444" stroke-width="0.8" />
<rect x="262.0" y="506.5" width="85.0" height="30.5" fill="#f7f7f7" stroke="#8a8a8a" stroke-width="0.8" rx="0" />
<line x1="262.0" y1="518.0" x2="347.0" y2="518.0" stroke="#aaa" stroke-width="0.6" />
<line x1="262.0" y1="526.5" x2="347.0" y2="526.5" stroke="#444" stroke-width="0.8" />
<line x1="262.0" y1="507.0" x2="347.0" y2="507.0" stroke="#444" stroke-width="0.9" />
<ellipse cx="266.7" cy="512.5" rx="3.2" ry="2.8" fill="#e0e0e0" stroke="#444" stroke-width="0.65" stroke-dasharray="1.2 0.6"/>
<line x1="264.7" y1="513.7" x2="268.7" y2="511.3" stroke="#444" stroke-width="0.65" />
<rect x="263.5" y="527.5" width="6.4" height="8.0" fill="#f6f6f6" stroke="#3c3c3c" stroke-width="0.7" rx="0" />
<polyline points="264.6,531.7 264.6,528.8 268.8,528.8 268.8,531.7" fill="none" stroke="#3c3c3c" stroke-width="0.65" />
<ellipse cx="276.2" cy="512.5" rx="3.2" ry="2.8" fill="#e0e0e0" stroke="#444" stroke-width="0.65" stroke-dasharray="1.2 0.6"/>
<line x1="274.2" y1="513.7" x2="278.2" y2="511.3" stroke="#444" stroke-width="0.65" />
<rect x="273.0" y="527.5" width="6.4" height="8.0" fill="#f6f6f6" stroke="#3c3c3c" stroke-width="0.7" rx="0" />
<polyline points="274.1,531.7 274.1,528.8 278.3,528.8 278.3,531.7" fill="none" stroke="#3c3c3c" stroke-width="0.65" />
<ellipse cx="285.6" cy="512.5" rx="3.2" ry="2.8" fill="#e0e0e0" stroke="#444" stroke-width="0.65" stroke-dasharray="1.2 0.6"/>
<line x1="283.6" y1="513.7" x2="287.6" y2="511.3" stroke="#444" stroke-width="0.65" />
<rect x="282.4" y="527.5" width="6.4" height="8.0" fill="#f6f6f6" stroke="#3c3c3c" stroke-width="0.7" rx="0" />
<polyline points="283.5,531.7 283.5,528.8 287.7,528.8 287.7,531.7" fill="none" stroke="#3c3c3c" stroke-width="0.65" />
<ellipse cx="295.1" cy="512.5" rx="3.2" ry="2.8" fill="#e0e0e0" stroke="#444" stroke-width="0.65" stroke-dasharray="1.2 0.6"/>
<line x1="293.1" y1="513.7" x2="297.1" y2="511.3" stroke="#444" stroke-width="0.65" />
<rect x="291.9" y="527.5" width="6.4" height="8.0" fill="#f6f6f6" stroke="#3c3c3c" stroke-width="0.7" rx="0" />
<polyline points="293.0,531.7 293.0,528.8 297.2,528.8 297.2,531.7" fill="none" stroke="#3c3c3c" stroke-width="0.65" />
<ellipse cx="304.5" cy="512.5" rx="3.2" ry="2.8" fill="#e0e0e0" stroke="#444" stroke-width="0.65" stroke-dasharray="1.2 0.6"/>
<line x1="302.5" y1="513.7" x2="306.5" y2="511.3" stroke="#444" stroke-width="0.65" />
<rect x="301.3" y="527.5" width="6.4" height="8.0" fill="#f6f6f6" stroke="#3c3c3c" stroke-width="0.7" rx="0" />
<polyline points="302.4,531.7 302.4,528.8 306.6,528.8 306.6,531.7" fill="none" stroke="#3c3c3c" stroke-width="0.65" />
<ellipse cx="313.9" cy="512.5" rx="3.2" ry="2.8" fill="#e0e0e0" stroke="#444" stroke-width="0.65" stroke-dasharray="1.2 0.6"/>
<line x1="311.9" y1="513.7" x2="315.9" y2="511.3" stroke="#444" stroke-width="0.65" />
<rect x="310.7" y="527.5" width="6.4" height="8.0" fill="#f6f6f6" stroke="#3c3c3c" stroke-width="0.7" rx="0" />
<polyline points="311.8,531.7 311.8,528.8 316.0,528.8 316.0,531.7" fill="none" stroke="#3c3c3c" stroke-width="0.65" />
<ellipse cx="323.4" cy="512.5" rx="3.2" ry="2.8" fill="#e0e0e0" stroke="#444" stroke-width="0.65" stroke-dasharray="1.2 0.6"/>
<line x1="321.4" y1="513.7" x2="325.4" y2="511.3" stroke="#444" stroke-width="0.65" />
<rect x="320.2" y="527.5" width="6.4" height="8.0" fill="#f6f6f6" stroke="#3c3c3c" stroke-width="0.7" rx="0" />
<polyline points="321.3,531.7 321.3,528.8 325.5,528.8 325.5,531.7" fill="none" stroke="#3c3c3c" stroke-width="0.65" />
<ellipse cx="332.8" cy="512.5" rx="3.2" ry="2.8" fill="#e0e0e0" stroke="#444" stroke-width="0.65" stroke-dasharray="1.2 0.6"/>
<line x1="330.8" y1="513.7" x2="334.8" y2="511.3" stroke="#444" stroke-width="0.65" />
<rect x="329.6" y="527.5" width="6.4" height="8.0" fill="#f6f6f6" stroke="#3c3c3c" stroke-width="0.7" rx="0" />
<polyline points="330.7,531.7 330.7,528.8 334.9,528.8 334.9,531.7" fill="none" stroke="#3c3c3c" stroke-width="0.65" />
<ellipse cx="342.3" cy="512.5" rx="3.2" ry="2.8" fill="#e0e0e0" stroke="#444" stroke-width="0.65" stroke-dasharray="1.2 0.6"/>
<line x1="340.3" y1="513.7" x2="344.3" y2="511.3" stroke="#444" stroke-width="0.65" />
<rect x="339.1" y="527.5" width="6.4" height="8.0" fill="#f6f6f6" stroke="#3c3c3c" stroke-width="0.7" rx="0" />
<polyline points="340.2,531.7 340.2,528.8 344.4,528.8 344.4,531.7" fill="none" stroke="#3c3c3c" stroke-width="0.65" />
<line x1="262.0" y1="536.5" x2="347.0" y2="536.5" stroke="#444" stroke-width="0.8" />
<rect x="350.0" y="506.5" width="38.5" height="30.5" fill="#d3da6c" stroke="#8a8f40" stroke-width="0.8" rx="0" />
<line x1="350.0" y1="518.0" x2="388.5" y2="518.0" stroke="#aaa" stroke-width="0.6" />
<line x1="350.0" y1="526.5" x2="388.5" y2="526.5" stroke="#444" stroke-width="0.8" />
<line x1="350.0" y1="507.0" x2="388.5" y2="507.0" stroke="#444" stroke-width="0.9" />
<ellipse cx="354.8" cy="512.5" rx="3.2" ry="2.8" fill="#c2c860" stroke="#3a3e10" stroke-width="0.65" stroke-dasharray="1.2 0.6"/>
<line x1="352.8" y1="513.7" x2="356.8" y2="511.3" stroke="#444" stroke-width="0.65" />
<rect x="351.6" y="527.5" width="6.4" height="8.0" fill="#c8cf62" stroke="#3c3c3c" stroke-width="0.7" rx="0" />
<polyline points="352.7,531.7 352.7,528.8 356.9,528.8 356.9,531.7" fill="none" stroke="#3c3c3c" stroke-width="0.65" />
<ellipse cx="364.4" cy="512.5" rx="3.2" ry="2.8" fill="#c2c860" stroke="#3a3e10" stroke-width="0.65" stroke-dasharray="1.2 0.6"/>
<line x1="362.4" y1="513.7" x2="366.4" y2="511.3" stroke="#444" stroke-width="0.65" />
<rect x="361.2" y="527.5" width="6.4" height="8.0" fill="#c8cf62" stroke="#3c3c3c" stroke-width="0.7" rx="0" />
<polyline points="362.3,531.7 362.3,528.8 366.5,528.8 366.5,531.7" fill="none" stroke="#3c3c3c" stroke-width="0.65" />
<ellipse cx="374.1" cy="512.5" rx="3.2" ry="2.8" fill="#c2c860" stroke="#3a3e10" stroke-width="0.65" stroke-dasharray="1.2 0.6"/>
<line x1="372.1" y1="513.7" x2="376.1" y2="511.3" stroke="#444" stroke-width="0.65" />
<rect x="370.9" y="527.5" width="6.4" height="8.0" fill="#c8cf62" stroke="#3c3c3c" stroke-width="0.7" rx="0" />
<polyline points="372.0,531.7 372.0,528.8 376.2,528.8 376.2,531.7" fill="none" stroke="#3c3c3c" stroke-width="0.65" />
<ellipse cx="383.7" cy="512.5" rx="3.2" ry="2.8" fill="#c2c860" stroke="#3a3e10" stroke-width="0.65" stroke-dasharray="1.2 0.6"/>
<line x1="381.7" y1="513.7" x2="385.7" y2="511.3" stroke="#444" stroke-width="0.65" />
<rect x="380.5" y="527.5" width="6.4" height="8.0" fill="#c8cf62" stroke="#3c3c3c" stroke-width="0.7" rx="0" />
<polyline points="381.6,531.7 381.6,528.8 385.8,528.8 385.8,531.7" fill="none" stroke="#3c3c3c" stroke-width="0.65" />
<line x1="350.0" y1="536.5" x2="388.5" y2="536.5" stroke="#444" stroke-width="0.8" />
<line x1="130.0" y1="506.5" x2="130.0" y2="537.5" stroke="#777" stroke-width="1.5" />
<line x1="210.0" y1="506.5" x2="210.0" y2="537.5" stroke="#777" stroke-width="1.5" />
<line x1="260.5" y1="506.5" x2="260.5" y2="537.5" stroke="#777" stroke-width="1.5" />
<line x1="348.5" y1="506.5" x2="348.5" y2="537.5" stroke="#777" stroke-width="1.5" />
<rect x="96.0" y="539.0" width="40.0" height="30.5" fill="#f7f7f7" stroke="#8a8a8a" stroke-width="0.8" rx="0" />
<line x1="96.0" y1="550.5" x2="136.0" y2="550.5" stroke="#aaa" stroke-width="0.6" />
<line x1="96.0" y1="559.0" x2="136.0" y2="559.0" stroke="#444" stroke-width="0.8" />
<line x1="96.0" y1="539.5" x2="136.0" y2="539.5" stroke="#444" stroke-width="0.9" />
<ellipse cx="101.0" cy="545.0" rx="3.2" ry="2.8" fill="#e0e0e0" stroke="#444" stroke-width="0.65" stroke-dasharray="1.2 0.6"/>
<line x1="99.0" y1="546.2" x2="103.0" y2="543.8" stroke="#444" stroke-width="0.65" />
<rect x="97.8" y="560.0" width="6.4" height="8.0" fill="#f6f6f6" stroke="#3c3c3c" stroke-width="0.7" rx="0" />
<polyline points="98.9,564.2 98.9,561.3 103.1,561.3 103.1,564.2" fill="none" stroke="#3c3c3c" stroke-width="0.65" />
<ellipse cx="111.0" cy="545.0" rx="3.2" ry="2.8" fill="#e0e0e0" stroke="#444" stroke-width="0.65" stroke-dasharray="1.2 0.6"/>
<line x1="109.0" y1="546.2" x2="113.0" y2="543.8" stroke="#444" stroke-width="0.65" />
<rect x="107.8" y="560.0" width="6.4" height="8.0" fill="#f6f6f6" stroke="#3c3c3c" stroke-width="0.7" rx="0" />
<polyline points="108.9,564.2 108.9,561.3 113.1,561.3 113.1,564.2" fill="none" stroke="#3c3c3c" stroke-width="0.65" />
<ellipse cx="121.0" cy="545.0" rx="3.2" ry="2.8" fill="#e0e0e0" stroke="#444" stroke-width="0.65" stroke-dasharray="1.2 0.6"/>
<line x1="119.0" y1="546.2" x2="123.0" y2="543.8" stroke="#444" stroke-width="0.65" />
<rect x="117.8" y="560.0" width="6.4" height="8.0" fill="#f6f6f6" stroke="#3c3c3c" stroke-width="0.7" rx="0" />
<polyline points="118.9,564.2 118.9,561.3 123.1,561.3 123.1,564.2" fill="none" stroke="#3c3c3c" stroke-width="0.65" />
<ellipse cx="131.0" cy="545.0" rx="3.2" ry="2.8" fill="#e0e0e0" stroke="#444" stroke-width="0.65" stroke-dasharray="1.2 0.6"/>
<line x1="129.0" y1="546.2" x2="133.0" y2="543.8" stroke="#444" stroke-width="0.65" />
<rect x="127.8" y="560.0" width="6.4" height="8.0" fill="#f6f6f6" stroke="#3c3c3c" stroke-width="0.7" rx="0" />
<polyline points="128.9,564.2 128.9,561.3 133.1,561.3 133.1,564.2" fill="none" stroke="#3c3c3c" stroke-width="0.65" />
<line x1="96.0" y1="569.0" x2="136.0" y2="569.0" stroke="#444" stroke-width="0.8" />
<rect x="138.0" y="539.0" width="76.0" height="30.5" fill="#f7f7f7" stroke="#8a8a8a" stroke-width="0.8" rx="0" />
<line x1="138.0" y1="550.5" x2="214.0" y2="550.5" stroke="#aaa" stroke-width="0.6" />
<line x1="138.0" y1="559.0" x2="214.0" y2="559.0" stroke="#444" stroke-width="0.8" />
<line x1="138.0" y1="539.5" x2="214.0" y2="539.5" stroke="#444" stroke-width="0.9" />
<ellipse cx="142.8" cy="545.0" rx="3.2" ry="2.8" fill="#e0e0e0" stroke="#444" stroke-width="0.65" stroke-dasharray="1.2 0.6"/>
<line x1="140.8" y1="546.2" x2="144.8" y2="543.8" stroke="#444" stroke-width="0.65" />
<rect x="139.6" y="560.0" width="6.4" height="8.0" fill="#f6f6f6" stroke="#3c3c3c" stroke-width="0.7" rx="0" />
<polyline points="140.7,564.2 140.7,561.3 144.9,561.3 144.9,564.2" fill="none" stroke="#3c3c3c" stroke-width="0.65" />
<ellipse cx="152.2" cy="545.0" rx="3.2" ry="2.8" fill="#e0e0e0" stroke="#444" stroke-width="0.65" stroke-dasharray="1.2 0.6"/>
<line x1="150.2" y1="546.2" x2="154.2" y2="543.8" stroke="#444" stroke-width="0.65" />
<rect x="149.1" y="560.0" width="6.4" height="8.0" fill="#f6f6f6" stroke="#3c3c3c" stroke-width="0.7" rx="0" />
<polyline points="150.2,564.2 150.2,561.3 154.4,561.3 154.4,564.2" fill="none" stroke="#3c3c3c" stroke-width="0.65" />
<ellipse cx="161.8" cy="545.0" rx="3.2" ry="2.8" fill="#e0e0e0" stroke="#444" stroke-width="0.65" stroke-dasharray="1.2 0.6"/>
<line x1="159.8" y1="546.2" x2="163.8" y2="543.8" stroke="#444" stroke-width="0.65" />
<rect x="158.6" y="560.0" width="6.4" height="8.0" fill="#f6f6f6" stroke="#3c3c3c" stroke-width="0.7" rx="0" />
<polyline points="159.7,564.2 159.7,561.3 163.9,561.3 163.9,564.2" fill="none" stroke="#3c3c3c" stroke-width="0.65" />
<ellipse cx="171.2" cy="545.0" rx="3.2" ry="2.8" fill="#e0e0e0" stroke="#444" stroke-width="0.65" stroke-dasharray="1.2 0.6"/>
<line x1="169.2" y1="546.2" x2="173.2" y2="543.8" stroke="#444" stroke-width="0.65" />
<rect x="168.1" y="560.0" width="6.4" height="8.0" fill="#f6f6f6" stroke="#3c3c3c" stroke-width="0.7" rx="0" />
<polyline points="169.2,564.2 169.2,561.3 173.4,561.3 173.4,564.2" fill="none" stroke="#3c3c3c" stroke-width="0.65" />
<ellipse cx="180.8" cy="545.0" rx="3.2" ry="2.8" fill="#e0e0e0" stroke="#444" stroke-width="0.65" stroke-dasharray="1.2 0.6"/>
<line x1="178.8" y1="546.2" x2="182.8" y2="543.8" stroke="#444" stroke-width="0.65" />
<rect x="177.6" y="560.0" width="6.4" height="8.0" fill="#f6f6f6" stroke="#3c3c3c" stroke-width="0.7" rx="0" />
<polyline points="178.7,564.2 178.7,561.3 182.9,561.3 182.9,564.2" fill="none" stroke="#3c3c3c" stroke-width="0.65" />
<ellipse cx="190.2" cy="545.0" rx="3.2" ry="2.8" fill="#e0e0e0" stroke="#444" stroke-width="0.65" stroke-dasharray="1.2 0.6"/>
<line x1="188.2" y1="546.2" x2="192.2" y2="543.8" stroke="#444" stroke-width="0.65" />
<rect x="187.1" y="560.0" width="6.4" height="8.0" fill="#f6f6f6" stroke="#3c3c3c" stroke-width="0.7" rx="0" />
<polyline points="188.2,564.2 188.2,561.3 192.4,561.3 192.4,564.2" fill="none" stroke="#3c3c3c" stroke-width="0.65" />
<ellipse cx="199.8" cy="545.0" rx="3.2" ry="2.8" fill="#e0e0e0" stroke="#444" stroke-width="0.65" stroke-dasharray="1.2 0.6"/>
<line x1="197.8" y1="546.2" x2="201.8" y2="543.8" stroke="#444" stroke-width="0.65" />
<rect x="196.6" y="560.0" width="6.4" height="8.0" fill="#f6f6f6" stroke="#3c3c3c" stroke-width="0.7" rx="0" />
<polyline points="197.7,564.2 197.7,561.3 201.9,561.3 201.9,564.2" fill="none" stroke="#3c3c3c" stroke-width="0.65" />
<ellipse cx="209.2" cy="545.0" rx="3.2" ry="2.8" fill="#e0e0e0" stroke="#444" stroke-width="0.65" stroke-dasharray="1.2 0.6"/>
<line x1="207.2" y1="546.2" x2="211.2" y2="543.8" stroke="#444" stroke-width="0.65" />
<rect x="206.1" y="560.0" width="6.4" height="8.0" fill="#f6f6f6" stroke="#3c3c3c" stroke-width="0.7" rx="0" />
<polyline points="207.2,564.2 207.2,561.3 211.4,561.3 211.4,564.2" fill="none" stroke="#3c3c3c" stroke-width="0.65" />
<line x1="138.0" y1="569.0" x2="214.0" y2="569.0" stroke="#444" stroke-width="0.8" />
<rect x="216.0" y="539.0" width="49.0" height="30.5" fill="#f7f7f7" stroke="#8a8a8a" stroke-width="0.8" rx="0" />
<line x1="216.0" y1="550.5" x2="265.0" y2="550.5" stroke="#aaa" stroke-width="0.6" />
<line x1="216.0" y1="559.0" x2="265.0" y2="559.0" stroke="#444" stroke-width="0.8" />
<line x1="216.0" y1="539.5" x2="265.0" y2="539.5" stroke="#444" stroke-width="0.9" />
<ellipse cx="220.9" cy="545.0" rx="3.2" ry="2.8" fill="#e0e0e0" stroke="#444" stroke-width="0.65" stroke-dasharray="1.2 0.6"/>
<line x1="218.9" y1="546.2" x2="222.9" y2="543.8" stroke="#444" stroke-width="0.65" />
<rect x="217.7" y="560.0" width="6.4" height="8.0" fill="#f6f6f6" stroke="#3c3c3c" stroke-width="0.7" rx="0" />
<polyline points="218.8,564.2 218.8,561.3 223.0,561.3 223.0,564.2" fill="none" stroke="#3c3c3c" stroke-width="0.65" />
<ellipse cx="230.7" cy="545.0" rx="3.2" ry="2.8" fill="#e0e0e0" stroke="#444" stroke-width="0.65" stroke-dasharray="1.2 0.6"/>
<line x1="228.7" y1="546.2" x2="232.7" y2="543.8" stroke="#444" stroke-width="0.65" />
<rect x="227.5" y="560.0" width="6.4" height="8.0" fill="#f6f6f6" stroke="#3c3c3c" stroke-width="0.7" rx="0" />
<polyline points="228.6,564.2 228.6,561.3 232.8,561.3 232.8,564.2" fill="none" stroke="#3c3c3c" stroke-width="0.65" />
<ellipse cx="240.5" cy="545.0" rx="3.2" ry="2.8" fill="#e0e0e0" stroke="#444" stroke-width="0.65" stroke-dasharray="1.2 0.6"/>
<line x1="238.5" y1="546.2" x2="242.5" y2="543.8" stroke="#444" stroke-width="0.65" />
<rect x="237.3" y="560.0" width="6.4" height="8.0" fill="#f6f6f6" stroke="#3c3c3c" stroke-width="0.7" rx="0" />
<polyline points="238.4,564.2 238.4,561.3 242.6,561.3 242.6,564.2" fill="none" stroke="#3c3c3c" stroke-width="0.65" />
<ellipse cx="250.3" cy="545.0" rx="3.2" ry="2.8" fill="#e0e0e0" stroke="#444" stroke-width="0.65" stroke-dasharray="1.2 0.6"/>
<line x1="248.3" y1="546.2" x2="252.3" y2="543.8" stroke="#444" stroke-width="0.65" />
<rect x="247.1" y="560.0" width="6.4" height="8.0" fill="#f6f6f6" stroke="#3c3c3c" stroke-width="0.7" rx="0" />
<polyline points="248.2,564.2 248.2,561.3 252.4,561.3 252.4,564.2" fill="none" stroke="#3c3c3c" stroke-width="0.65" />
<ellipse cx="260.1" cy="545.0" rx="3.2" ry="2.8" fill="#e0e0e0" stroke="#444" stroke-width="0.65" stroke-dasharray="1.2 0.6"/>
<line x1="258.1" y1="546.2" x2="262.1" y2="543.8" stroke="#444" stroke-width="0.65" />
<rect x="256.9" y="560.0" width="6.4" height="8.0" fill="#f6f6f6" stroke="#3c3c3c" stroke-width="0.7" rx="0" />
<polyline points="258.0,564.2 258.0,561.3 262.2,561.3 262.2,564.2" fill="none" stroke="#3c3c3c" stroke-width="0.65" />
<line x1="216.0" y1="569.0" x2="265.0" y2="569.0" stroke="#444" stroke-width="0.8" />
<rect x="267.0" y="539.0" width="87.0" height="30.5" fill="#f7f7f7" stroke="#8a8a8a" stroke-width="0.8" rx="0" />
<line x1="267.0" y1="550.5" x2="354.0" y2="550.5" stroke="#aaa" stroke-width="0.6" />
<line x1="267.0" y1="559.0" x2="354.0" y2="559.0" stroke="#444" stroke-width="0.8" />
<line x1="267.0" y1="539.5" x2="354.0" y2="539.5" stroke="#444" stroke-width="0.9" />
<ellipse cx="271.8" cy="545.0" rx="3.2" ry="2.8" fill="#e0e0e0" stroke="#444" stroke-width="0.65" stroke-dasharray="1.2 0.6"/>
<line x1="269.8" y1="546.2" x2="273.8" y2="543.8" stroke="#444" stroke-width="0.65" />
<rect x="268.6" y="560.0" width="6.4" height="8.0" fill="#f6f6f6" stroke="#3c3c3c" stroke-width="0.7" rx="0" />
<polyline points="269.7,564.2 269.7,561.3 273.9,561.3 273.9,564.2" fill="none" stroke="#3c3c3c" stroke-width="0.65" />
<ellipse cx="281.5" cy="545.0" rx="3.2" ry="2.8" fill="#e0e0e0" stroke="#444" stroke-width="0.65" stroke-dasharray="1.2 0.6"/>
<line x1="279.5" y1="546.2" x2="283.5" y2="543.8" stroke="#444" stroke-width="0.65" />
<rect x="278.3" y="560.0" width="6.4" height="8.0" fill="#f6f6f6" stroke="#3c3c3c" stroke-width="0.7" rx="0" />
<polyline points="279.4,564.2 279.4,561.3 283.6,561.3 283.6,564.2" fill="none" stroke="#3c3c3c" stroke-width="0.65" />
<ellipse cx="291.2" cy="545.0" rx="3.2" ry="2.8" fill="#e0e0e0" stroke="#444" stroke-width="0.65" stroke-dasharray="1.2 0.6"/>
<line x1="289.2" y1="546.2" x2="293.2" y2="543.8" stroke="#444" stroke-width="0.65" />
<rect x="288.0" y="560.0" width="6.4" height="8.0" fill="#f6f6f6" stroke="#3c3c3c" stroke-width="0.7" rx="0" />
<polyline points="289.1,564.2 289.1,561.3 293.3,561.3 293.3,564.2" fill="none" stroke="#3c3c3c" stroke-width="0.65" />
<ellipse cx="300.8" cy="545.0" rx="3.2" ry="2.8" fill="#e0e0e0" stroke="#444" stroke-width="0.65" stroke-dasharray="1.2 0.6"/>
<line x1="298.8" y1="546.2" x2="302.8" y2="543.8" stroke="#444" stroke-width="0.65" />
<rect x="297.6" y="560.0" width="6.4" height="8.0" fill="#f6f6f6" stroke="#3c3c3c" stroke-width="0.7" rx="0" />
<polyline points="298.7,564.2 298.7,561.3 302.9,561.3 302.9,564.2" fill="none" stroke="#3c3c3c" stroke-width="0.65" />
<ellipse cx="310.5" cy="545.0" rx="3.2" ry="2.8" fill="#e0e0e0" stroke="#444" stroke-width="0.65" stroke-dasharray="1.2 0.6"/>
<line x1="308.5" y1="546.2" x2="312.5" y2="543.8" stroke="#444" stroke-width="0.65" />
<rect x="307.3" y="560.0" width="6.4" height="8.0" fill="#f6f6f6" stroke="#3c3c3c" stroke-width="0.7" rx="0" />
<polyline points="308.4,564.2 308.4,561.3 312.6,561.3 312.6,564.2" fill="none" stroke="#3c3c3c" stroke-width="0.65" />
<ellipse cx="320.2" cy="545.0" rx="3.2" ry="2.8" fill="#e0e0e0" stroke="#444" stroke-width="0.65" stroke-dasharray="1.2 0.6"/>
<line x1="318.2" y1="546.2" x2="322.2" y2="543.8" stroke="#444" stroke-width="0.65" />
<rect x="317.0" y="560.0" width="6.4" height="8.0" fill="#f6f6f6" stroke="#3c3c3c" stroke-width="0.7" rx="0" />
<polyline points="318.1,564.2 318.1,561.3 322.3,561.3 322.3,564.2" fill="none" stroke="#3c3c3c" stroke-width="0.65" />
<ellipse cx="329.8" cy="545.0" rx="3.2" ry="2.8" fill="#e0e0e0" stroke="#444" stroke-width="0.65" stroke-dasharray="1.2 0.6"/>
<line x1="327.8" y1="546.2" x2="331.8" y2="543.8" stroke="#444" stroke-width="0.65" />
<rect x="326.6" y="560.0" width="6.4" height="8.0" fill="#f6f6f6" stroke="#3c3c3c" stroke-width="0.7" rx="0" />
<polyline points="327.7,564.2 327.7,561.3 331.9,561.3 331.9,564.2" fill="none" stroke="#3c3c3c" stroke-width="0.65" />
<ellipse cx="339.5" cy="545.0" rx="3.2" ry="2.8" fill="#e0e0e0" stroke="#444" stroke-width="0.65" stroke-dasharray="1.2 0.6"/>
<line x1="337.5" y1="546.2" x2="341.5" y2="543.8" stroke="#444" stroke-width="0.65" />
<rect x="336.3" y="560.0" width="6.4" height="8.0" fill="#f6f6f6" stroke="#3c3c3c" stroke-width="0.7" rx="0" />
<polyline points="337.4,564.2 337.4,561.3 341.6,561.3 341.6,564.2" fill="none" stroke="#3c3c3c" stroke-width="0.65" />
<ellipse cx="349.2" cy="545.0" rx="3.2" ry="2.8" fill="#e0e0e0" stroke="#444" stroke-width="0.65" stroke-dasharray="1.2 0.6"/>
<line x1="347.2" y1="546.2" x2="351.2" y2="543.8" stroke="#444" stroke-width="0.65" />
<rect x="346.0" y="560.0" width="6.4" height="8.0" fill="#f6f6f6" stroke="#3c3c3c" stroke-width="0.7" rx="0" />
<polyline points="347.1,564.2 347.1,561.3 351.3,561.3 351.3,564.2" fill="none" stroke="#3c3c3c" stroke-width="0.65" />
<line x1="267.0" y1="569.0" x2="354.0" y2="569.0" stroke="#444" stroke-width="0.8" />
<rect x="355.5" y="539.0" width="37.5" height="30.5" fill="#d3da6c" stroke="#8a8f40" stroke-width="0.8" rx="0" />
<line x1="355.5" y1="550.5" x2="393.0" y2="550.5" stroke="#aaa" stroke-width="0.6" />
<line x1="355.5" y1="559.0" x2="393.0" y2="559.0" stroke="#444" stroke-width="0.8" />
<line x1="355.5" y1="539.5" x2="393.0" y2="539.5" stroke="#444" stroke-width="0.9" />
<ellipse cx="360.2" cy="545.0" rx="3.2" ry="2.8" fill="#c2c860" stroke="#3a3e10" stroke-width="0.65" stroke-dasharray="1.2 0.6"/>
<line x1="358.2" y1="546.2" x2="362.2" y2="543.8" stroke="#444" stroke-width="0.65" />
<rect x="357.0" y="560.0" width="6.4" height="8.0" fill="#c8cf62" stroke="#3c3c3c" stroke-width="0.7" rx="0" />
<polyline points="358.1,564.2 358.1,561.3 362.3,561.3 362.3,564.2" fill="none" stroke="#3c3c3c" stroke-width="0.65" />
<ellipse cx="369.6" cy="545.0" rx="3.2" ry="2.8" fill="#c2c860" stroke="#3a3e10" stroke-width="0.65" stroke-dasharray="1.2 0.6"/>
<line x1="367.6" y1="546.2" x2="371.6" y2="543.8" stroke="#444" stroke-width="0.65" />
<rect x="366.4" y="560.0" width="6.4" height="8.0" fill="#c8cf62" stroke="#3c3c3c" stroke-width="0.7" rx="0" />
<polyline points="367.5,564.2 367.5,561.3 371.7,561.3 371.7,564.2" fill="none" stroke="#3c3c3c" stroke-width="0.65" />
<ellipse cx="378.9" cy="545.0" rx="3.2" ry="2.8" fill="#c2c860" stroke="#3a3e10" stroke-width="0.65" stroke-dasharray="1.2 0.6"/>
<line x1="376.9" y1="546.2" x2="380.9" y2="543.8" stroke="#444" stroke-width="0.65" />
<rect x="375.7" y="560.0" width="6.4" height="8.0" fill="#c8cf62" stroke="#3c3c3c" stroke-width="0.7" rx="0" />
<polyline points="376.8,564.2 376.8,561.3 381.0,561.3 381.0,564.2" fill="none" stroke="#3c3c3c" stroke-width="0.65" />
<ellipse cx="388.3" cy="545.0" rx="3.2" ry="2.8" fill="#c2c860" stroke="#3a3e10" stroke-width="0.65" stroke-dasharray="1.2 0.6"/>
<line x1="386.3" y1="546.2" x2="390.3" y2="543.8" stroke="#444" stroke-width="0.65" />
<rect x="385.1" y="560.0" width="6.4" height="8.0" fill="#c8cf62" stroke="#3c3c3c" stroke-width="0.7" rx="0" />
<polyline points="386.2,564.2 386.2,561.3 390.4,561.3 390.4,564.2" fill="none" stroke="#3c3c3c" stroke-width="0.65" />
<line x1="355.5" y1="569.0" x2="393.0" y2="569.0" stroke="#444" stroke-width="0.8" />
<rect x="396.0" y="539.0" width="32.0" height="30.5" fill="#f7f7f7" stroke="#8a8a8a" stroke-width="0.8" rx="0" />
<line x1="396.0" y1="550.5" x2="428.0" y2="550.5" stroke="#aaa" stroke-width="0.6" />
<line x1="396.0" y1="559.0" x2="428.0" y2="559.0" stroke="#444" stroke-width="0.8" />
<line x1="396.0" y1="539.5" x2="428.0" y2="539.5" stroke="#444" stroke-width="0.9" />
<ellipse cx="401.3" cy="545.0" rx="3.2" ry="2.8" fill="#e0e0e0" stroke="#444" stroke-width="0.65" stroke-dasharray="1.2 0.6"/>
<line x1="399.3" y1="546.2" x2="403.3" y2="543.8" stroke="#444" stroke-width="0.65" />
<rect x="398.1" y="560.0" width="6.4" height="8.0" fill="#f6f6f6" stroke="#3c3c3c" stroke-width="0.7" rx="0" />
<polyline points="399.2,564.2 399.2,561.3 403.4,561.3 403.4,564.2" fill="none" stroke="#3c3c3c" stroke-width="0.65" />
<ellipse cx="412.0" cy="545.0" rx="3.2" ry="2.8" fill="#e0e0e0" stroke="#444" stroke-width="0.65" stroke-dasharray="1.2 0.6"/>
<line x1="410.0" y1="546.2" x2="414.0" y2="543.8" stroke="#444" stroke-width="0.65" />
<rect x="408.8" y="560.0" width="6.4" height="8.0" fill="#f6f6f6" stroke="#3c3c3c" stroke-width="0.7" rx="0" />
<polyline points="409.9,564.2 409.9,561.3 414.1,561.3 414.1,564.2" fill="none" stroke="#3c3c3c" stroke-width="0.65" />
<ellipse cx="422.7" cy="545.0" rx="3.2" ry="2.8" fill="#e0e0e0" stroke="#444" stroke-width="0.65" stroke-dasharray="1.2 0.6"/>
<line x1="420.7" y1="546.2" x2="424.7" y2="543.8" stroke="#444" stroke-width="0.65" />
<rect x="419.5" y="560.0" width="6.4" height="8.0" fill="#f6f6f6" stroke="#3c3c3c" stroke-width="0.7" rx="0" />
<polyline points="420.6,564.2 420.6,561.3 424.8,561.3 424.8,564.2" fill="none" stroke="#3c3c3c" stroke-width="0.65" />
<line x1="396.0" y1="569.0" x2="428.0" y2="569.0" stroke="#444" stroke-width="0.8" />
<line x1="137.0" y1="539.0" x2="137.0" y2="570.0" stroke="#777" stroke-width="1.5" />
<line x1="215.0" y1="539.0" x2="215.0" y2="570.0" stroke="#777" stroke-width="1.5" />
<line x1="266.0" y1="539.0" x2="266.0" y2="570.0" stroke="#777" stroke-width="1.5" />
<line x1="355.0" y1="539.0" x2="355.0" y2="570.0" stroke="#777" stroke-width="1.5" />
<line x1="92.0" y1="571.0" x2="436.0" y2="571.0" stroke="#666" stroke-width="0.8" />
<line x1="92.0" y1="574.0" x2="436.0" y2="574.0" stroke="#a8a8a8" stroke-width="0.7" />
<polyline points="88.0,566.0 84.0,568.0 86.0,578.0 92.0,580.0" fill="none" stroke="#a8a8a8" stroke-width="0.6" />
<polygon points="666.0,352.0 662.0,348.0 686.6,463.4 680.9,489.4 676.0,571.0 666.0,571.0" fill="#f3f3f3" stroke="none" stroke-width="0.7" />
<line x1="666.0" y1="497.6" x2="679.0" y2="497.6" stroke="#bbb" stroke-width="0.8" />
<line x1="666.0" y1="507.3" x2="679.0" y2="507.3" stroke="#bbb" stroke-width="0.8" />
<line x1="666.0" y1="517.0" x2="679.0" y2="517.0" stroke="#bbb" stroke-width="0.8" />
<line x1="666.0" y1="523.6" x2="679.0" y2="523.6" stroke="#bbb" stroke-width="0.8" />
<line x1="666.0" y1="539.8" x2="679.0" y2="539.8" stroke="#bbb" stroke-width="0.8" />
<line x1="666.0" y1="552.8" x2="679.0" y2="552.8" stroke="#bbb" stroke-width="0.8" />
<line x1="666.0" y1="557.7" x2="679.0" y2="557.7" stroke="#bbb" stroke-width="0.8" />
<line x1="666.0" y1="565.9" x2="679.0" y2="565.9" stroke="#bbb" stroke-width="0.8" />
<line x1="666.0" y1="570.7" x2="679.0" y2="570.7" stroke="#bbb" stroke-width="0.8" />
<line x1="666.0" y1="430.0" x2="684.0" y2="430.0" stroke="#ddd" stroke-width="0.6" />
<line x1="666.0" y1="455.0" x2="686.0" y2="455.0" stroke="#ddd" stroke-width="0.6" />
<polyline points="656.5,321.0 661.0,320.5 697.2,486.2 682.5,574.0 676.0,575.0" fill="none" stroke="#8a8a8a" stroke-width="0.8" />
<polyline points="656.5,321.0 662.0,348.0" fill="none" stroke="#8a8a8a" stroke-width="0.7" />
<polyline points="662.0,348.0 686.6,463.4 680.9,489.4" fill="none" stroke="#222" stroke-width="1.6" />
<line x1="666.0" y1="489.4" x2="681.0" y2="489.4" stroke="#333" stroke-width="1.0" />
<line x1="686.6" y1="463.4" x2="673.6" y2="562.6" stroke="#999" stroke-width="0.6" stroke-dasharray="2 1"/>
<line x1="691.0" y1="470.0" x2="678.0" y2="572.0" stroke="#999" stroke-width="0.6" stroke-dasharray="2 1"/>
<rect x="675.0" y="562.0" width="9.0" height="10.0" fill="#fafafa" stroke="#8a8a8a" stroke-width="0.6" rx="2" />
<rect x="667.3" y="428.5" width="7.0" height="8.0" fill="#f0f0f0" stroke="#5a5a5a" stroke-width="0.8" rx="2" />
<ellipse cx="670.8" cy="435.5" rx="3.6" ry="1.5" fill="none" stroke="#111" stroke-width="1.2" />
<rect x="315.5" y="450.3" width="86.0" height="16.2" fill="#6e6e6e" stroke="none" stroke-width="0.7" rx="0" />
<text x="358.5" y="463.3" font-size="12.6" fill="#fff" text-anchor="middle" textLength="85" lengthAdjust="spacingAndGlyphs">ANALOG OUT</text>
<rect x="315.5" y="466.5" width="21.5" height="16.0" fill="#d2d86a" stroke="#777" stroke-width="0.8" rx="0" />
<text x="326.2" y="478.5" font-size="12.8" fill="#333" text-anchor="middle">54</text>
<rect x="337.0" y="466.5" width="21.5" height="16.0" fill="#fff" stroke="#777" stroke-width="0.8" rx="0" />
<text x="347.8" y="478.5" font-size="12.8" fill="#333" text-anchor="middle">56</text>
<rect x="358.5" y="466.5" width="21.5" height="16.0" fill="#d2d86a" stroke="#777" stroke-width="0.8" rx="0" />
<text x="369.2" y="478.5" font-size="12.8" fill="#333" text-anchor="middle">58</text>
<rect x="380.0" y="466.5" width="21.5" height="16.0" fill="#fff" stroke="#777" stroke-width="0.8" rx="0" />
<text x="390.8" y="478.5" font-size="12.8" fill="#333" text-anchor="middle">64</text>
<rect x="325.5" y="487.8" width="21.5" height="15.6" fill="#d2d86a" stroke="#777" stroke-width="0.8" rx="0" />
<text x="336.2" y="499.6" font-size="12.8" fill="#333" text-anchor="middle">53</text>
<rect x="347.0" y="487.8" width="21.5" height="15.6" fill="#fff" stroke="#777" stroke-width="0.8" rx="0" />
<text x="357.8" y="499.6" font-size="12.8" fill="#333" text-anchor="middle">55</text>
<rect x="368.5" y="487.8" width="21.5" height="15.6" fill="#d2d86a" stroke="#777" stroke-width="0.8" rx="0" />
<text x="379.2" y="499.6" font-size="12.8" fill="#333" text-anchor="middle">57</text>
<rect x="390.0" y="487.8" width="21.5" height="15.6" fill="#fff" stroke="#777" stroke-width="0.8" rx="0" />
<text x="400.8" y="499.6" font-size="12.8" fill="#333" text-anchor="middle">63</text>
<path d="M355,532 C355,560 340,587 264.5,591.8" fill="none" stroke="#1587d2" stroke-width="4" stroke-linecap="round"/>
<path d="M359.5,564.5 C358,590 330,605 264.5,609.7" fill="none" stroke="#a85a44" stroke-width="4" stroke-linecap="round"/>
<text x="258.0" y="597.3" font-size="13.2" fill="#1587d2" text-anchor="end">AO1</text>
<text x="257.5" y="614.7" font-size="13.2" fill="#a85a44" text-anchor="end">GND</text>
<rect x="429" y="360" width="237" height="258" rx="9" fill="#dfeefb"/>
<rect x="436.0" y="366.5" width="92.0" height="16.3" fill="#6e6e6e" stroke="none" stroke-width="0.7" rx="0" />
<text x="482.0" y="379.2" font-size="12.6" fill="#fff" text-anchor="middle" textLength="86" lengthAdjust="spacingAndGlyphs">ANALOG OUT</text>
<rect x="435.2" y="419.2" width="30.2" height="30.2" fill="#0f83cc" stroke="#1b3550" stroke-width="0.9" rx="0" />
<circle cx="450.2" cy="434.5" r="10.6" fill="#fff" stroke="#222" stroke-width="0.9"/>
<text x="450.2" y="439.5" font-size="14" fill="#111" text-anchor="middle">1</text>
<text x="439.2" y="448.0" font-size="7.5" fill="#fff" text-anchor="middle" font-weight="bold">+</text>
<line x1="459.2" y1="446.5" x2="462.2" y2="446.5" stroke="#fff" stroke-width="1.1" />
<rect x="473.9" y="419.2" width="30.2" height="30.2" fill="#0f83cc" stroke="#1b3550" stroke-width="0.9" rx="0" />
<circle cx="488.9" cy="434.5" r="10.6" fill="#fff" stroke="#222" stroke-width="0.9"/>
<text x="488.9" y="439.5" font-size="14" fill="#111" text-anchor="middle">2</text>
<text x="477.9" y="448.0" font-size="7.5" fill="#fff" text-anchor="middle" font-weight="bold">+</text>
<line x1="497.9" y1="446.5" x2="500.9" y2="446.5" stroke="#fff" stroke-width="1.1" />
<rect x="512.6" y="419.2" width="30.2" height="30.2" fill="#0f83cc" stroke="#1b3550" stroke-width="0.9" rx="0" />
<circle cx="527.6" cy="434.5" r="10.6" fill="#fff" stroke="#222" stroke-width="0.9"/>
<text x="527.6" y="439.5" font-size="14" fill="#111" text-anchor="middle">3</text>
<text x="516.6" y="448.0" font-size="7.5" fill="#fff" text-anchor="middle" font-weight="bold">+</text>
<line x1="536.6" y1="446.5" x2="539.6" y2="446.5" stroke="#fff" stroke-width="1.1" />
<rect x="551.3" y="419.2" width="30.2" height="30.2" fill="#0f83cc" stroke="#1b3550" stroke-width="0.9" rx="0" />
<circle cx="566.3" cy="434.5" r="10.6" fill="#fff" stroke="#222" stroke-width="0.9"/>
<text x="566.3" y="439.5" font-size="14" fill="#111" text-anchor="middle">4</text>
<text x="555.3" y="448.0" font-size="7.5" fill="#fff" text-anchor="middle" font-weight="bold">+</text>
<line x1="575.3" y1="446.5" x2="578.3" y2="446.5" stroke="#fff" stroke-width="1.1" />
<polyline points="446.4,449.4 446.4,458.2 606.1,458.2 606.1,441.0" fill="none" stroke="#2d9ee0" stroke-width="1.5" />
<polyline points="453.2,449.4 453.2,463.3 606.1,463.3 606.1,570.0" fill="none" stroke="#b87264" stroke-width="1.5" />
<polyline points="485.1,449.4 485.1,472.6 620.2,472.6 620.2,441.0" fill="none" stroke="#2d9ee0" stroke-width="1.5" />
<polyline points="491.9,449.4 491.9,477.9 620.2,477.9 620.2,570.0" fill="none" stroke="#b87264" stroke-width="1.5" />
<polyline points="523.8,449.4 523.8,487.0 634.9,487.0 634.9,441.0" fill="none" stroke="#2d9ee0" stroke-width="1.5" />
<polyline points="530.6,449.4 530.6,492.5 634.9,492.5 634.9,570.0" fill="none" stroke="#b87264" stroke-width="1.5" />
<polyline points="562.5,449.4 562.5,501.4 649.2,501.4 649.2,441.0" fill="none" stroke="#2d9ee0" stroke-width="1.5" />
<polyline points="569.3,449.4 569.3,507.1 649.2,507.1 649.2,570.0" fill="none" stroke="#b87264" stroke-width="1.5" />
<ellipse cx="588.3" cy="460.8" rx="3.5" ry="5.5" fill="none" stroke="#333" stroke-width="0.8" stroke-dasharray="1.2 1.3"/>
<ellipse cx="588.3" cy="475.2" rx="3.5" ry="5.5" fill="none" stroke="#333" stroke-width="0.8" stroke-dasharray="1.2 1.3"/>
<ellipse cx="588.3" cy="489.8" rx="3.5" ry="5.5" fill="none" stroke="#333" stroke-width="0.8" stroke-dasharray="1.2 1.3"/>
<ellipse cx="588.3" cy="504.2" rx="3.5" ry="5.5" fill="none" stroke="#333" stroke-width="0.8" stroke-dasharray="1.2 1.3"/>
<line x1="588.5" y1="455.0" x2="588.5" y2="569.0" stroke="#333" stroke-width="1.1" stroke-dasharray="1.2 2"/>
<circle cx="588.6" cy="571.4" r="2.1" fill="#fff" stroke="#333" stroke-width="0.8"/>
<text x="584.3" y="574.6" font-size="13.2" fill="#111" text-anchor="end" textLength="67" lengthAdjust="spacingAndGlyphs">PE (SHLD)</text>
<path d="M597,400.2 L659,400.2 L659,448.7 L598,448.7 Z" fill="#e6ec84" stroke="#555a20" stroke-width="0.8"/>
<line x1="597.3" y1="402.2" x2="597.8" y2="447.2" stroke="#333" stroke-width="1.4" />
<line x1="597.0" y1="400.7" x2="659.0" y2="400.7" stroke="#555" stroke-width="1.2" />
<line x1="597.0" y1="417.4" x2="659.0" y2="417.4" stroke="#9aa040" stroke-width="0.8" />
<line x1="597.0" y1="429.5" x2="659.0" y2="429.5" stroke="#80863a" stroke-width="0.8" />
<ellipse cx="603.6" cy="406.4" rx="5.8" ry="3.9" fill="#bfc463" stroke="#222" stroke-width="0.8" stroke-dasharray="1.5 0.8"/>
<line x1="600.4" y1="406.4" x2="606.4" y2="406.4" stroke="#333" stroke-width="0.8" />
<polyline points="600.9,408.7 603.9,409.7 606.9,407.7" fill="none" stroke="#333" stroke-width="0.6" />
<rect x="599.3" y="431.7" width="11.8" height="14.0" fill="#d7dc70" stroke="#222" stroke-width="0.9" rx="0" />
<rect x="600.6" y="434.2" width="9.5" height="3.6" fill="#000" stroke="none" stroke-width="0.7" rx="0" />
<circle cx="606.1" cy="440.8" r="3.4" fill="#0a88d8"/>
<rect x="601.3" y="384.0" width="6.2" height="12.7" fill="#0a86d6" stroke="none" stroke-width="0.7" rx="0" />
<text transform="translate(608.7,381.5) rotate(-90)" font-size="12.8" fill="#4a4a4a">54</text>
<ellipse cx="618.7" cy="406.4" rx="5.8" ry="3.9" fill="#bfc463" stroke="#222" stroke-width="0.8" stroke-dasharray="1.5 0.8"/>
<line x1="615.5" y1="406.4" x2="621.5" y2="406.4" stroke="#333" stroke-width="0.8" />
<polyline points="616.0,408.7 619.0,409.7 622.0,407.7" fill="none" stroke="#333" stroke-width="0.6" />
<rect x="613.4" y="431.7" width="11.8" height="14.0" fill="#d7dc70" stroke="#222" stroke-width="0.9" rx="0" />
<rect x="614.7" y="434.2" width="9.5" height="3.6" fill="#000" stroke="none" stroke-width="0.7" rx="0" />
<circle cx="620.2" cy="440.8" r="3.4" fill="#0a88d8"/>
<rect x="616.6" y="384.0" width="6.2" height="12.7" fill="#0a86d6" stroke="none" stroke-width="0.7" rx="0" />
<text transform="translate(624.0,381.5) rotate(-90)" font-size="12.8" fill="#4a4a4a">56</text>
<ellipse cx="633.8" cy="406.4" rx="5.8" ry="3.9" fill="#bfc463" stroke="#222" stroke-width="0.8" stroke-dasharray="1.5 0.8"/>
<line x1="630.6" y1="406.4" x2="636.6" y2="406.4" stroke="#333" stroke-width="0.8" />
<polyline points="631.1,408.7 634.1,409.7 637.1,407.7" fill="none" stroke="#333" stroke-width="0.6" />
<rect x="628.1" y="431.7" width="11.8" height="14.0" fill="#d7dc70" stroke="#222" stroke-width="0.9" rx="0" />
<rect x="629.4" y="434.2" width="9.5" height="3.6" fill="#000" stroke="none" stroke-width="0.7" rx="0" />
<circle cx="634.9" cy="440.8" r="3.4" fill="#0a88d8"/>
<rect x="631.9" y="384.0" width="6.2" height="12.7" fill="#0a86d6" stroke="none" stroke-width="0.7" rx="0" />
<text transform="translate(639.3,381.5) rotate(-90)" font-size="12.8" fill="#4a4a4a">58</text>
<ellipse cx="648.9" cy="406.4" rx="5.8" ry="3.9" fill="#bfc463" stroke="#222" stroke-width="0.8" stroke-dasharray="1.5 0.8"/>
<line x1="645.7" y1="406.4" x2="651.7" y2="406.4" stroke="#333" stroke-width="0.8" />
<polyline points="646.2,408.7 649.2,409.7 652.2,407.7" fill="none" stroke="#333" stroke-width="0.6" />
<rect x="642.4" y="431.7" width="11.8" height="14.0" fill="#d7dc70" stroke="#222" stroke-width="0.9" rx="0" />
<rect x="643.7" y="434.2" width="9.5" height="3.6" fill="#000" stroke="none" stroke-width="0.7" rx="0" />
<circle cx="649.2" cy="440.8" r="3.4" fill="#0a88d8"/>
<rect x="647.2" y="384.0" width="6.2" height="12.7" fill="#0a86d6" stroke="none" stroke-width="0.7" rx="0" />
<text transform="translate(654.6,381.5) rotate(-90)" font-size="12.8" fill="#4a4a4a">64</text>
<path d="M597,532 L659,532 L659,580.5 L598,580.5 Z" fill="#e6ec84" stroke="#555a20" stroke-width="0.8"/>
<line x1="597.3" y1="534.0" x2="597.8" y2="579.0" stroke="#333" stroke-width="1.4" />
<line x1="597.0" y1="532.5" x2="659.0" y2="532.5" stroke="#555" stroke-width="1.2" />
<line x1="597.0" y1="549.2" x2="659.0" y2="549.2" stroke="#9aa040" stroke-width="0.8" />
<line x1="597.0" y1="561.3" x2="659.0" y2="561.3" stroke="#80863a" stroke-width="0.8" />
<ellipse cx="603.6" cy="538.2" rx="5.8" ry="3.9" fill="#bfc463" stroke="#222" stroke-width="0.8" stroke-dasharray="1.5 0.8"/>
<line x1="600.4" y1="538.2" x2="606.4" y2="538.2" stroke="#333" stroke-width="0.8" />
<polyline points="600.9,540.5 603.9,541.5 606.9,539.5" fill="none" stroke="#333" stroke-width="0.6" />
<rect x="599.3" y="563.5" width="11.8" height="14.0" fill="#d7dc70" stroke="#222" stroke-width="0.9" rx="0" />
<rect x="600.6" y="566.0" width="9.5" height="3.6" fill="#000" stroke="none" stroke-width="0.7" rx="0" />
<line x1="606.1" y1="531.0" x2="606.1" y2="569.6" stroke="#b87264" stroke-width="1.5" />
<circle cx="606.1" cy="569.6" r="3.4" fill="#b4533f"/>
<rect x="601.9" y="584.0" width="6.2" height="12.7" fill="#b0533d" stroke="none" stroke-width="0.7" rx="0" />
<text transform="translate(609.3,616.5) rotate(-90)" font-size="12.8" fill="#4a4a4a">53</text>
<ellipse cx="618.7" cy="538.2" rx="5.8" ry="3.9" fill="#bfc463" stroke="#222" stroke-width="0.8" stroke-dasharray="1.5 0.8"/>
<line x1="615.5" y1="538.2" x2="621.5" y2="538.2" stroke="#333" stroke-width="0.8" />
<polyline points="616.0,540.5 619.0,541.5 622.0,539.5" fill="none" stroke="#333" stroke-width="0.6" />
<rect x="613.4" y="563.5" width="11.8" height="14.0" fill="#d7dc70" stroke="#222" stroke-width="0.9" rx="0" />
<rect x="614.7" y="566.0" width="9.5" height="3.6" fill="#000" stroke="none" stroke-width="0.7" rx="0" />
<line x1="620.2" y1="531.0" x2="620.2" y2="569.6" stroke="#b87264" stroke-width="1.5" />
<circle cx="620.2" cy="569.6" r="3.4" fill="#b4533f"/>
<rect x="616.6" y="584.0" width="6.2" height="12.7" fill="#b0533d" stroke="none" stroke-width="0.7" rx="0" />
<text transform="translate(624.0,616.5) rotate(-90)" font-size="12.8" fill="#4a4a4a">55</text>
<ellipse cx="633.8" cy="538.2" rx="5.8" ry="3.9" fill="#bfc463" stroke="#222" stroke-width="0.8" stroke-dasharray="1.5 0.8"/>
<line x1="630.6" y1="538.2" x2="636.6" y2="538.2" stroke="#333" stroke-width="0.8" />
<polyline points="631.1,540.5 634.1,541.5 637.1,539.5" fill="none" stroke="#333" stroke-width="0.6" />
<rect x="628.1" y="563.5" width="11.8" height="14.0" fill="#d7dc70" stroke="#222" stroke-width="0.9" rx="0" />
<rect x="629.4" y="566.0" width="9.5" height="3.6" fill="#000" stroke="none" stroke-width="0.7" rx="0" />
<line x1="634.9" y1="531.0" x2="634.9" y2="569.6" stroke="#b87264" stroke-width="1.5" />
<circle cx="634.9" cy="569.6" r="3.4" fill="#b4533f"/>
<rect x="631.4" y="584.0" width="6.2" height="12.7" fill="#b0533d" stroke="none" stroke-width="0.7" rx="0" />
<text transform="translate(638.8,616.5) rotate(-90)" font-size="12.8" fill="#4a4a4a">57</text>
<ellipse cx="648.9" cy="538.2" rx="5.8" ry="3.9" fill="#bfc463" stroke="#222" stroke-width="0.8" stroke-dasharray="1.5 0.8"/>
<line x1="645.7" y1="538.2" x2="651.7" y2="538.2" stroke="#333" stroke-width="0.8" />
<polyline points="646.2,540.5 649.2,541.5 652.2,539.5" fill="none" stroke="#333" stroke-width="0.6" />
<rect x="642.4" y="563.5" width="11.8" height="14.0" fill="#d7dc70" stroke="#222" stroke-width="0.9" rx="0" />
<rect x="643.7" y="566.0" width="9.5" height="3.6" fill="#000" stroke="none" stroke-width="0.7" rx="0" />
<line x1="649.2" y1="531.0" x2="649.2" y2="569.6" stroke="#b87264" stroke-width="1.5" />
<circle cx="649.2" cy="569.6" r="3.4" fill="#b4533f"/>
<rect x="646.1" y="584.0" width="6.2" height="12.7" fill="#b0533d" stroke="none" stroke-width="0.7" rx="0" />
<text transform="translate(653.5,616.5) rotate(-90)" font-size="12.8" fill="#4a4a4a">63</text>
</svg>

<div id="attn" class="box">
  <svg style="position:absolute;left:12px;top:14px" width="16" height="16" viewBox="0 0 16 16"><circle cx="8" cy="8" r="6.6" fill="none" stroke="#1c5fa6" stroke-width="1.5"/><rect x="7.25" y="6.6" width="1.5" height="5" fill="#1c5fa6"/><circle cx="8" cy="4.6" r="1" fill="#1c5fa6"/></svg>
  <div class="ttl" style="top:11.7px">ATTENTION</div>
  <div class="txt" style="top:37.2px"><b style="color:#000">Malfunction due to interference sources!</b> All supply lines from and to the WRG 3010 E (with the<br>exception of the 230 V power supply and signal cables) must be shielded (cable type: LiYCY)! This<br>particularly applies for the analogue inputs and outputs (e.g. sensor supply cables) as well as the CAN<br>bus cabling (see <a>Basics and General Safety and Connection Instructions</a>). As a general rule, care<br>should be taken to ensure that signal cables and cables carrying mains voltage are routed in separate<br>cable channels.</div>
</div>

<div class="ft" style="left:71px">Firmware V1.41 V1</div>
<div class="ft" style="left:379px">16.05.2023</div>
<div class="ft" style="left:706px">115/174</div>
</div>
</body></html>
